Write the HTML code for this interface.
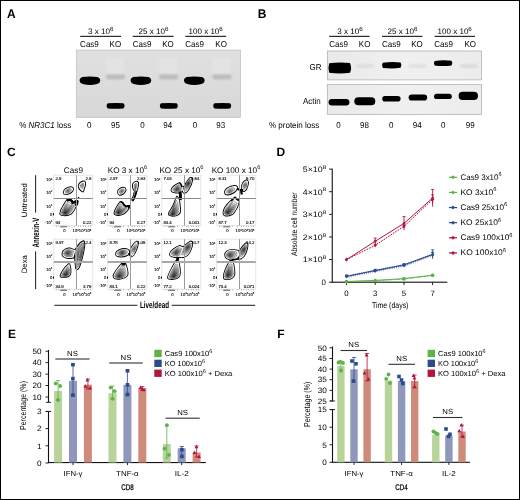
<!DOCTYPE html>
<html><head><meta charset="utf-8"><style>
html,body{margin:0;padding:0;background:#fff;}
svg{display:block;}
text{font-family:"Liberation Sans",sans-serif;text-rendering:geometricPrecision;}
</style></head><body>
<svg width="520" height="500" viewBox="0 0 520 500" style="will-change:transform">
<rect x="0" y="0" width="520" height="500" fill="#fff"/>
<text transform="translate(7,17.6) scale(1,1.05)" x="0" y="0" font-size="12" text-anchor="start" font-weight="bold" fill="#000">A</text>
<text transform="translate(88,34.2) scale(1,1.07)" font-size="7.5" textLength="25.599999999999994" lengthAdjust="spacingAndGlyphs">3 x 10<tspan font-size="5.8" dy="-3.1">6</tspan></text>
<rect x="80.2" y="35.8" width="40.8" height="1.15" fill="#222"/>
<text transform="translate(138.5,34.2) scale(1,1.07)" font-size="7.5" textLength="30.099999999999994" lengthAdjust="spacingAndGlyphs">25 x 10<tspan font-size="5.8" dy="-3.1">6</tspan></text>
<rect x="132.8" y="35.8" width="40.69999999999999" height="1.15" fill="#222"/>
<text transform="translate(188.5,34.2) scale(1,1.07)" font-size="7.5" textLength="34.30000000000001" lengthAdjust="spacingAndGlyphs">100 x 10<tspan font-size="5.8" dy="-3.1">6</tspan></text>
<rect x="185.3" y="35.8" width="40.89999999999998" height="1.15" fill="#222"/>
<text transform="translate(80.1,46.7) scale(1,1.07)" x="0" y="0" font-size="8" text-anchor="start" font-weight="normal" fill="#000">Cas9</text>
<text transform="translate(109.6,46.7) scale(1,1.07)" x="0" y="0" font-size="8" text-anchor="start" font-weight="normal" fill="#000">KO</text>
<text transform="translate(132.7,46.7) scale(1,1.07)" x="0" y="0" font-size="8" text-anchor="start" font-weight="normal" fill="#000">Cas9</text>
<text transform="translate(162.2,46.7) scale(1,1.07)" x="0" y="0" font-size="8" text-anchor="start" font-weight="normal" fill="#000">KO</text>
<text transform="translate(185.3,46.7) scale(1,1.07)" x="0" y="0" font-size="8" text-anchor="start" font-weight="normal" fill="#000">Cas9</text>
<text transform="translate(215.3,46.7) scale(1,1.07)" x="0" y="0" font-size="8" text-anchor="start" font-weight="normal" fill="#000">KO</text>
<defs><linearGradient id="gelg" x1="0" y1="0" x2="0" y2="1"><stop offset="0" stop-color="#e0e0e0"/><stop offset="1" stop-color="#d8d8d8"/></linearGradient><linearGradient id="smear" x1="0" y1="0" x2="0" y2="1"><stop offset="0" stop-color="#d4d4d4" stop-opacity="0.0"/><stop offset="0.7" stop-color="#d0d0d0" stop-opacity="0.35"/><stop offset="1" stop-color="#c8c8c8" stop-opacity="0.55"/></linearGradient><filter id="blur1" x="-20%" y="-50%" width="140%" height="200%"><feGaussianBlur stdDeviation="0.55"/></filter><filter id="blur2" x="-20%" y="-50%" width="140%" height="200%"><feGaussianBlur stdDeviation="1.0"/></filter><filter id="blur3" x="-20%" y="-50%" width="140%" height="200%"><feGaussianBlur stdDeviation="0.8"/></filter></defs>
<rect x="76.3" y="50.1" width="164.2" height="67.3" fill="url(#gelg)" stroke="#bdbdbd" stroke-width="0.7"/>
<rect x="106.5" y="58" width="17.5" height="17" fill="#e6e6e6" opacity="0.7" filter="url(#blur2)"/>
<rect x="159.5" y="58" width="17.5" height="17" fill="#e6e6e6" opacity="0.7" filter="url(#blur2)"/>
<rect x="213" y="58" width="17.5" height="17" fill="#e6e6e6" opacity="0.7" filter="url(#blur2)"/>
<path d="M82.3,77.1 Q89.89999999999999,76.0 97.5,77.1 Q100.4,78.3 100.2,80.9 Q99.8,83.4 97.0,84.1 Q89.89999999999999,86.0 82.8,84.1 Q80.0,83.4 79.6,80.9 Q79.39999999999999,78.3 82.3,77.1 Z" fill="#000" filter="url(#blur1)"/>
<path d="M133.3,77.1 Q140.9,76.0 148.5,77.1 Q151.4,78.3 151.2,80.9 Q150.8,83.4 148.0,84.1 Q140.9,86.0 133.8,84.1 Q131.0,83.4 130.60000000000002,80.9 Q130.4,78.3 133.3,77.1 Z" fill="#000" filter="url(#blur1)"/>
<path d="M186.7,77.1 Q194.29999999999998,76.0 201.89999999999998,77.1 Q204.79999999999998,78.3 204.59999999999997,80.9 Q204.2,83.4 201.39999999999998,84.1 Q194.29999999999998,86.0 187.2,84.1 Q184.39999999999998,83.4 184.0,80.9 Q183.79999999999998,78.3 186.7,77.1 Z" fill="#000" filter="url(#blur1)"/>
<rect x="106.0" y="74.6" width="18.8" height="4.6" rx="1.4" fill="#bababa" filter="url(#blur3)"/>
<rect x="159.2" y="74.6" width="18.8" height="4.6" rx="1.4" fill="#bababa" filter="url(#blur3)"/>
<rect x="212.6" y="74.6" width="18.8" height="4.6" rx="1.4" fill="#bababa" filter="url(#blur3)"/>
<path d="M107.8,103.3 Q115.8,102.8 123.4,103.3 Q125.8,105.9 123.4,108.5 Q115.8,109.1 107.8,108.5 Q105.39999999999999,105.9 107.8,103.3 Z" fill="#000" filter="url(#blur1)"/>
<path d="M161.0,103.3 Q169.0,102.8 176.6,103.3 Q179.0,105.9 176.6,108.5 Q169.0,109.1 161.0,108.5 Q158.6,105.9 161.0,103.3 Z" fill="#000" filter="url(#blur1)"/>
<path d="M214.4,103.3 Q222.4,102.8 230.0,103.3 Q232.4,105.9 230.0,108.5 Q222.4,109.1 214.4,108.5 Q212.0,105.9 214.4,103.3 Z" fill="#000" filter="url(#blur1)"/>
<text transform="translate(19.2,127.5) scale(1,1.07)" font-size="8">% <tspan font-style="italic">NR3C1</tspan> loss</text>
<text transform="translate(89.2,127.5) scale(1,1.07)" x="0" y="0" font-size="8" text-anchor="middle" font-weight="normal" fill="#000">0</text>
<text transform="translate(115.4,127.5) scale(1,1.07)" x="0" y="0" font-size="8" text-anchor="middle" font-weight="normal" fill="#000">95</text>
<text transform="translate(142.5,127.5) scale(1,1.07)" x="0" y="0" font-size="8" text-anchor="middle" font-weight="normal" fill="#000">0</text>
<text transform="translate(167.7,127.5) scale(1,1.07)" x="0" y="0" font-size="8" text-anchor="middle" font-weight="normal" fill="#000">94</text>
<text transform="translate(195,127.5) scale(1,1.07)" x="0" y="0" font-size="8" text-anchor="middle" font-weight="normal" fill="#000">0</text>
<text transform="translate(220.8,127.5) scale(1,1.07)" x="0" y="0" font-size="8" text-anchor="middle" font-weight="normal" fill="#000">93</text>
<text transform="translate(257.8,17.6) scale(1,1.05)" x="0" y="0" font-size="12" text-anchor="start" font-weight="bold" fill="#000">B</text>
<text transform="translate(337.2,34.2) scale(1,1.07)" font-size="7.5" textLength="25.600000000000023" lengthAdjust="spacingAndGlyphs">3 x 10<tspan font-size="5.8" dy="-3.1">6</tspan></text>
<rect x="329.2" y="35.8" width="40.400000000000034" height="1.15" fill="#222"/>
<text transform="translate(387.5,34.2) scale(1,1.07)" font-size="7.5" textLength="30.100000000000023" lengthAdjust="spacingAndGlyphs">25 x 10<tspan font-size="5.8" dy="-3.1">6</tspan></text>
<rect x="382" y="35.8" width="40.39999999999998" height="1.15" fill="#222"/>
<text transform="translate(437.6,34.2) scale(1,1.07)" font-size="7.5" textLength="34.19999999999999" lengthAdjust="spacingAndGlyphs">100 x 10<tspan font-size="5.8" dy="-3.1">6</tspan></text>
<rect x="434.6" y="35.8" width="40.39999999999998" height="1.15" fill="#222"/>
<text transform="translate(329.2,46.7) scale(1,1.07)" x="0" y="0" font-size="8" text-anchor="start" font-weight="normal" fill="#000">Cas9</text>
<text transform="translate(358.8,46.7) scale(1,1.07)" x="0" y="0" font-size="8" text-anchor="start" font-weight="normal" fill="#000">KO</text>
<text transform="translate(382,46.7) scale(1,1.07)" x="0" y="0" font-size="8" text-anchor="start" font-weight="normal" fill="#000">Cas9</text>
<text transform="translate(411.2,46.7) scale(1,1.07)" x="0" y="0" font-size="8" text-anchor="start" font-weight="normal" fill="#000">KO</text>
<text transform="translate(434.2,46.7) scale(1,1.07)" x="0" y="0" font-size="8" text-anchor="start" font-weight="normal" fill="#000">Cas9</text>
<text transform="translate(464.4,46.7) scale(1,1.07)" x="0" y="0" font-size="8" text-anchor="start" font-weight="normal" fill="#000">KO</text>
<linearGradient id="blotg" x1="0" y1="0" x2="1" y2="0"><stop offset="0" stop-color="#e9e9e9"/><stop offset="0.5" stop-color="#f0f0f0"/><stop offset="1" stop-color="#ececec"/></linearGradient>
<rect x="327.3" y="51" width="154.3" height="28.9" fill="url(#blotg)" stroke="#aaa" stroke-width="0.7"/>
<rect x="327.3" y="84.4" width="154.3" height="30" fill="url(#blotg)" stroke="#aaa" stroke-width="0.7"/>
<text transform="translate(321.5,70.3) scale(1,1.07)" x="0" y="0" font-size="8" text-anchor="end" font-weight="normal" fill="#000">GR</text>
<text transform="translate(320.8,104.3) scale(1,1.07)" x="0" y="0" font-size="8" text-anchor="end" font-weight="normal" fill="#000">Actin</text>
<path d="M329.2,63.2 Q340,61.8 350,63 Q352.2,68 350,72.8 Q340,74.2 329.2,72.8 Q327.6,68 329.2,63.2 Z" fill="#000" filter="url(#blur1)"/>
<path d="M382.8,62.8 Q392,61.4 400.6,62.6 Q402.2,65.2 400.6,67.8 Q392,68.9 382.8,67.9 Q381.2,65.4 382.8,62.8 Z" fill="#000" filter="url(#blur1)"/>
<path d="M434.6,60.9 Q443,59.8 451.6,60.7 Q453.1,63.1 451.6,65.5 Q443,66.5 434.6,65.5 Q433.1,63.2 434.6,60.9 Z" fill="#000" filter="url(#blur1)"/>
<rect x="356" y="64.4" width="18" height="3" rx="1.5" fill="#c8c8c8" opacity="0.5" filter="url(#blur3)"/>
<rect x="408.5" y="64.4" width="18" height="3" rx="1.5" fill="#c8c8c8" opacity="0.45" filter="url(#blur3)"/>
<rect x="460" y="64.4" width="18" height="3" rx="1.5" fill="#c8c8c8" opacity="0.6" filter="url(#blur3)"/>
<rect x="328.6" y="99.0" width="20.8" height="6.6" rx="3.30" fill="#000" filter="url(#blur1)"/>
<rect x="354.3" y="97.2" width="21" height="8" rx="4.00" fill="#000" filter="url(#blur1)"/>
<rect x="382.2" y="96.0" width="18.4" height="5.6" rx="2.80" fill="#000" filter="url(#blur1)"/>
<rect x="408.6" y="94.4" width="18.6" height="6.2" rx="3.10" fill="#000" filter="url(#blur1)"/>
<rect x="434" y="93.7" width="17.8" height="5.4" rx="2.70" fill="#000" filter="url(#blur1)"/>
<rect x="458.6" y="91.8" width="19.4" height="8.2" rx="4.10" fill="#000" filter="url(#blur1)"/>
<text transform="translate(269,127.5) scale(1,1.07)" font-size="8">% protein loss</text>
<text transform="translate(338.5,127.5) scale(1,1.07)" x="0" y="0" font-size="8" text-anchor="middle" font-weight="normal" fill="#000">0</text>
<text transform="translate(364.4,127.5) scale(1,1.07)" x="0" y="0" font-size="8" text-anchor="middle" font-weight="normal" fill="#000">98</text>
<text transform="translate(391.2,127.5) scale(1,1.07)" x="0" y="0" font-size="8" text-anchor="middle" font-weight="normal" fill="#000">0</text>
<text transform="translate(417.3,127.5) scale(1,1.07)" x="0" y="0" font-size="8" text-anchor="middle" font-weight="normal" fill="#000">94</text>
<text transform="translate(443.2,127.5) scale(1,1.07)" x="0" y="0" font-size="8" text-anchor="middle" font-weight="normal" fill="#000">0</text>
<text transform="translate(470.2,127.5) scale(1,1.07)" x="0" y="0" font-size="8" text-anchor="middle" font-weight="normal" fill="#000">99</text>
<g transform="translate(54,176) scale(0.1)">
<rect x="-2" y="-8" width="390" height="505" fill="#fff" stroke="#e2e2e2" stroke-width="9"/>
<path d="M97,165 C95,140 130,115 165,112 C190,112 198,128 185,148 C170,170 135,182 115,182 C103,182 98,175 97,165 Z" fill="#000" stroke="#000" stroke-width="18" stroke-linejoin="round"/>
<path d="M248,95 C255,70 280,55 305,55 C318,60 312,95 300,125 C295,140 292,152 288,155 C270,145 245,120 248,95 Z" fill="#000" stroke="#000" stroke-width="18" stroke-linejoin="round"/>
<path d="M62,375 C65,350 85,310 100,290 C110,270 120,250 132,240 L150,232 L170,240 L180,250 L186,266 L200,260 L220,250 L236,250 L233,275 L220,300 L212,315 C205,335 190,360 170,378 C150,390 120,394 95,392 C75,390 62,385 62,375 Z" fill="#000" stroke="#000" stroke-width="18" stroke-linejoin="round"/>
<path d="M97,165 C95,140 130,115 165,112 C190,112 198,128 185,148 C170,170 135,182 115,182 C103,182 98,175 97,165 Z" fill="#fcfcfc"/>
<path d="M248,95 C255,70 280,55 305,55 C318,60 312,95 300,125 C295,140 292,152 288,155 C270,145 245,120 248,95 Z" fill="#fafafa"/>
<path d="M62,375 C65,350 85,310 100,290 C110,270 120,250 132,240 L150,232 L170,240 L180,250 L186,266 L200,260 L220,250 L236,250 L233,275 L220,300 L212,315 C205,335 190,360 170,378 C150,390 120,394 95,392 C75,390 62,385 62,375 Z" fill="#fdfdfd"/>
<path d="M97,165 C95,140 130,115 165,112 C190,112 198,128 185,148 C170,170 135,182 115,182 C103,182 98,175 97,165 Z" fill="#e6e6e6" stroke="#000" stroke-width="5.45" transform="translate(140,150) scale(0.660) translate(-140,-150)"/>
<path d="M97,165 C95,140 130,115 165,112 C190,112 198,128 185,148 C170,170 135,182 115,182 C103,182 98,175 97,165 Z" fill="#c8c8c8" stroke="#000" stroke-width="8.57" transform="translate(140,150) scale(0.420) translate(-140,-150)"/>
<path d="M97,165 C95,140 130,115 165,112 C190,112 198,128 185,148 C170,170 135,182 115,182 C103,182 98,175 97,165 Z" fill="#a0a0a0" stroke="#000" stroke-width="18.00" transform="translate(140,150) scale(0.200) translate(-140,-150)"/>
<path d="M248,95 C255,70 280,55 305,55 C318,60 312,95 300,125 C295,140 292,152 288,155 C270,145 245,120 248,95 Z" fill="#dcdcdc" stroke="#000" stroke-width="6.55" transform="translate(280,95) scale(0.550) translate(-280,-95)"/>
<path d="M248,95 C255,70 280,55 305,55 C318,60 312,95 300,125 C295,140 292,152 288,155 C270,145 245,120 248,95 Z" fill="#b8b8b8" stroke="#000" stroke-width="14.40" transform="translate(280,95) scale(0.250) translate(-280,-95)"/>
<path d="M62,375 C65,350 85,310 100,290 C110,270 120,250 132,240 L150,232 L170,240 L180,250 L186,266 L200,260 L220,250 L236,250 L233,275 L220,300 L212,315 C205,335 190,360 170,378 C150,390 120,394 95,392 C75,390 62,385 62,375 Z" fill="#f0f0f0" stroke="#000" stroke-width="4.50" transform="translate(112,368) scale(0.800) translate(-112,-368)"/>
<path d="M62,375 C65,350 85,310 100,290 C110,270 120,250 132,240 L150,232 L170,240 L180,250 L186,266 L200,260 L220,250 L236,250 L233,275 L220,300 L212,315 C205,335 190,360 170,378 C150,390 120,394 95,392 C75,390 62,385 62,375 Z" fill="#e0e0e0" stroke="#000" stroke-width="5.45" transform="translate(112,368) scale(0.660) translate(-112,-368)"/>
<path d="M62,375 C65,350 85,310 100,290 C110,270 120,250 132,240 L150,232 L170,240 L180,250 L186,266 L200,260 L220,250 L236,250 L233,275 L220,300 L212,315 C205,335 190,360 170,378 C150,390 120,394 95,392 C75,390 62,385 62,375 Z" fill="#cecece" stroke="#000" stroke-width="6.55" transform="translate(112,368) scale(0.550) translate(-112,-368)"/>
<path d="M62,375 C65,350 85,310 100,290 C110,270 120,250 132,240 L150,232 L170,240 L180,250 L186,266 L200,260 L220,250 L236,250 L233,275 L220,300 L212,315 C205,335 190,360 170,378 C150,390 120,394 95,392 C75,390 62,385 62,375 Z" fill="#bababa" stroke="#000" stroke-width="8.00" transform="translate(112,368) scale(0.450) translate(-112,-368)"/>
<path d="M62,375 C65,350 85,310 100,290 C110,270 120,250 132,240 L150,232 L170,240 L180,250 L186,266 L200,260 L220,250 L236,250 L233,275 L220,300 L212,315 C205,335 190,360 170,378 C150,390 120,394 95,392 C75,390 62,385 62,375 Z" fill="#a6a6a6" stroke="#000" stroke-width="10.00" transform="translate(112,368) scale(0.360) translate(-112,-368)"/>
<path d="M62,375 C65,350 85,310 100,290 C110,270 120,250 132,240 L150,232 L170,240 L180,250 L186,266 L200,260 L220,250 L236,250 L233,275 L220,300 L212,315 C205,335 190,360 170,378 C150,390 120,394 95,392 C75,390 62,385 62,375 Z" fill="#929292" stroke="#000" stroke-width="12.86" transform="translate(112,368) scale(0.280) translate(-112,-368)"/>
<path d="M62,375 C65,350 85,310 100,290 C110,270 120,250 132,240 L150,232 L170,240 L180,250 L186,266 L200,260 L220,250 L236,250 L233,275 L220,300 L212,315 C205,335 190,360 170,378 C150,390 120,394 95,392 C75,390 62,385 62,375 Z" fill="#7e7e7e" stroke="#000" stroke-width="18.00" transform="translate(112,368) scale(0.200) translate(-112,-368)"/>
<path d="M62,375 C65,350 85,310 100,290 C110,270 120,250 132,240 L150,232 L170,240 L180,250 L186,266 L200,260 L220,250 L236,250 L233,275 L220,300 L212,315 C205,335 190,360 170,378 C150,390 120,394 95,392 C75,390 62,385 62,375 Z" fill="#6a6a6a" stroke="#000" stroke-width="30.00" transform="translate(112,368) scale(0.120) translate(-112,-368)"/>
<path d="M62,375 C65,350 85,310 100,290 C110,270 120,250 132,240 L150,232 L170,240 L180,250 L186,266 L200,260 L220,250 L236,250 L233,275 L220,300 L212,315 C205,335 190,360 170,378 C150,390 120,394 95,392 C75,390 62,385 62,375 Z" fill="#555" stroke="#000" stroke-width="72.00" transform="translate(112,368) scale(0.050) translate(-112,-368)"/>
<path d="M128,246 L150,236 L170,244 L180,254 L186,270 L200,264 L220,256 L232,254 L229,275 L217,298" fill="none" stroke="#000" stroke-width="24" stroke-linejoin="round"/><rect x="238" y="210" width="14" height="12" fill="#000"/>
<rect x="220" y="-8" width="10" height="505" fill="#9a9a9a"/>
<rect x="-2" y="220" width="390" height="10" fill="#8a8a8a"/>
<rect x="20" y="497" width="8" height="12" fill="#aaa"/>
<rect x="45" y="497" width="8" height="12" fill="#aaa"/>
<rect x="70" y="497" width="8" height="12" fill="#aaa"/>
<rect x="80" y="497" width="8" height="12" fill="#aaa"/>
<rect x="90" y="497" width="8" height="12" fill="#aaa"/>
<rect x="100" y="497" width="8" height="12" fill="#aaa"/>
<rect x="110" y="497" width="8" height="12" fill="#aaa"/>
<rect x="125" y="497" width="8" height="12" fill="#aaa"/>
<rect x="150" y="497" width="8" height="12" fill="#aaa"/>
<rect x="200" y="497" width="8" height="12" fill="#aaa"/>
<rect x="240" y="497" width="8" height="12" fill="#aaa"/>
<rect x="260" y="497" width="8" height="12" fill="#aaa"/>
<rect x="290" y="497" width="8" height="12" fill="#aaa"/>
<rect x="310" y="497" width="8" height="12" fill="#aaa"/>
<rect x="340" y="497" width="8" height="12" fill="#aaa"/>
<rect x="360" y="497" width="8" height="12" fill="#aaa"/>
<rect x="60" y="505" width="70" height="8" fill="#555"/>
<rect x="-9" y="372" width="9" height="22" fill="#000"/>
</g>
<text x="55.40" y="179.60" font-size="4.3" stroke="#000" stroke-width="0.12">2.9</text>
<text x="91.40" y="179.60" font-size="4.3" stroke="#000" stroke-width="0.12" text-anchor="end">2.9</text>
<text x="55.40" y="224.10" font-size="4.3" stroke="#000" stroke-width="0.12">94</text>
<text x="91.40" y="224.10" font-size="4.3" stroke="#000" stroke-width="0.12" text-anchor="end">0.22</text>
<text x="52.40" y="181.30" font-size="4.2" stroke="#000" stroke-width="0.1" text-anchor="end">10<tspan font-size="2.8" dy="-1.5">3</tspan></text>
<text x="52.40" y="193.80" font-size="4.2" stroke="#000" stroke-width="0.1" text-anchor="end">10<tspan font-size="2.8" dy="-1.5">2</tspan></text>
<text x="52.40" y="207.60" font-size="4.2" stroke="#000" stroke-width="0.1" text-anchor="end">10<tspan font-size="2.8" dy="-1.5">1</tspan></text>
<text x="52.40" y="216.00" font-size="4.2" stroke="#000" stroke-width="0.1" text-anchor="end">0</text>
<text x="52.40" y="223.80" font-size="4.2" stroke="#000" stroke-width="0.1" text-anchor="end">-10<tspan font-size="2.8" dy="-1.5">1</tspan></text>
<text x="64.40" y="232.10" font-size="4.2" stroke="#000" stroke-width="0.1" text-anchor="middle">0</text>
<text x="72.60" y="232.10" font-size="4.2" stroke="#000" stroke-width="0.1" textLength="18.8" lengthAdjust="spacingAndGlyphs">10<tspan font-size="2.8" dy="-1.5">3</tspan><tspan dy="1.5">10</tspan><tspan font-size="2.8" dy="-1.5">4</tspan><tspan dy="1.5">10</tspan><tspan font-size="2.8" dy="-1.5">5</tspan></text>
<g transform="translate(108,176) scale(0.1)">
<rect x="-2" y="-8" width="390" height="505" fill="#fff" stroke="#e2e2e2" stroke-width="9"/>
<path d="M100,160 C100,135 135,115 160,118 C180,122 180,140 168,158 C155,178 130,190 115,188 C105,185 100,175 100,160 Z" fill="#000" stroke="#000" stroke-width="18" stroke-linejoin="round"/>
<path d="M250,85 C255,60 290,50 300,65 C305,90 295,125 285,150 C280,175 270,200 260,225 L248,245 L242,238 C255,210 265,180 270,150 C255,135 245,110 250,85 Z" fill="#000" stroke="#000" stroke-width="18" stroke-linejoin="round"/>
<path d="M65,370 C70,340 95,295 125,258 L145,268 L160,290 L180,305 L200,300 L215,300 L205,325 C190,350 165,375 135,385 C100,395 62,390 65,370 Z" fill="#000" stroke="#000" stroke-width="18" stroke-linejoin="round"/>
<path d="M100,160 C100,135 135,115 160,118 C180,122 180,140 168,158 C155,178 130,190 115,188 C105,185 100,175 100,160 Z" fill="#fcfcfc"/>
<path d="M250,85 C255,60 290,50 300,65 C305,90 295,125 285,150 C280,175 270,200 260,225 L248,245 L242,238 C255,210 265,180 270,150 C255,135 245,110 250,85 Z" fill="#fafafa"/>
<path d="M65,370 C70,340 95,295 125,258 L145,268 L160,290 L180,305 L200,300 L215,300 L205,325 C190,350 165,375 135,385 C100,395 62,390 65,370 Z" fill="#fdfdfd"/>
<path d="M100,160 C100,135 135,115 160,118 C180,122 180,140 168,158 C155,178 130,190 115,188 C105,185 100,175 100,160 Z" fill="#e6e6e6" stroke="#000" stroke-width="5.45" transform="translate(138,153) scale(0.660) translate(-138,-153)"/>
<path d="M100,160 C100,135 135,115 160,118 C180,122 180,140 168,158 C155,178 130,190 115,188 C105,185 100,175 100,160 Z" fill="#c8c8c8" stroke="#000" stroke-width="8.57" transform="translate(138,153) scale(0.420) translate(-138,-153)"/>
<path d="M100,160 C100,135 135,115 160,118 C180,122 180,140 168,158 C155,178 130,190 115,188 C105,185 100,175 100,160 Z" fill="#a0a0a0" stroke="#000" stroke-width="18.00" transform="translate(138,153) scale(0.200) translate(-138,-153)"/>
<path d="M250,85 C255,60 290,50 300,65 C305,90 295,125 285,150 C280,175 270,200 260,225 L248,245 L242,238 C255,210 265,180 270,150 C255,135 245,110 250,85 Z" fill="#dcdcdc" stroke="#000" stroke-width="6.55" transform="translate(275,95) scale(0.550) translate(-275,-95)"/>
<path d="M250,85 C255,60 290,50 300,65 C305,90 295,125 285,150 C280,175 270,200 260,225 L248,245 L242,238 C255,210 265,180 270,150 C255,135 245,110 250,85 Z" fill="#b8b8b8" stroke="#000" stroke-width="14.40" transform="translate(275,95) scale(0.250) translate(-275,-95)"/>
<path d="M65,370 C70,340 95,295 125,258 L145,268 L160,290 L180,305 L200,300 L215,300 L205,325 C190,350 165,375 135,385 C100,395 62,390 65,370 Z" fill="#f0f0f0" stroke="#000" stroke-width="4.50" transform="translate(105,365) scale(0.800) translate(-105,-365)"/>
<path d="M65,370 C70,340 95,295 125,258 L145,268 L160,290 L180,305 L200,300 L215,300 L205,325 C190,350 165,375 135,385 C100,395 62,390 65,370 Z" fill="#e0e0e0" stroke="#000" stroke-width="5.45" transform="translate(105,365) scale(0.660) translate(-105,-365)"/>
<path d="M65,370 C70,340 95,295 125,258 L145,268 L160,290 L180,305 L200,300 L215,300 L205,325 C190,350 165,375 135,385 C100,395 62,390 65,370 Z" fill="#cecece" stroke="#000" stroke-width="6.55" transform="translate(105,365) scale(0.550) translate(-105,-365)"/>
<path d="M65,370 C70,340 95,295 125,258 L145,268 L160,290 L180,305 L200,300 L215,300 L205,325 C190,350 165,375 135,385 C100,395 62,390 65,370 Z" fill="#bababa" stroke="#000" stroke-width="8.00" transform="translate(105,365) scale(0.450) translate(-105,-365)"/>
<path d="M65,370 C70,340 95,295 125,258 L145,268 L160,290 L180,305 L200,300 L215,300 L205,325 C190,350 165,375 135,385 C100,395 62,390 65,370 Z" fill="#a6a6a6" stroke="#000" stroke-width="10.00" transform="translate(105,365) scale(0.360) translate(-105,-365)"/>
<path d="M65,370 C70,340 95,295 125,258 L145,268 L160,290 L180,305 L200,300 L215,300 L205,325 C190,350 165,375 135,385 C100,395 62,390 65,370 Z" fill="#929292" stroke="#000" stroke-width="12.86" transform="translate(105,365) scale(0.280) translate(-105,-365)"/>
<path d="M65,370 C70,340 95,295 125,258 L145,268 L160,290 L180,305 L200,300 L215,300 L205,325 C190,350 165,375 135,385 C100,395 62,390 65,370 Z" fill="#7e7e7e" stroke="#000" stroke-width="18.00" transform="translate(105,365) scale(0.200) translate(-105,-365)"/>
<path d="M65,370 C70,340 95,295 125,258 L145,268 L160,290 L180,305 L200,300 L215,300 L205,325 C190,350 165,375 135,385 C100,395 62,390 65,370 Z" fill="#6a6a6a" stroke="#000" stroke-width="30.00" transform="translate(105,365) scale(0.120) translate(-105,-365)"/>
<path d="M65,370 C70,340 95,295 125,258 L145,268 L160,290 L180,305 L200,300 L215,300 L205,325 C190,350 165,375 135,385 C100,395 62,390 65,370 Z" fill="#555" stroke="#000" stroke-width="72.00" transform="translate(105,365) scale(0.050) translate(-105,-365)"/>
<path d="M125,258 L145,268 L160,290 L180,305 L200,300 L215,300 L205,325" fill="none" stroke="#000" stroke-width="18" stroke-linejoin="round"/><path d="M285,150 C280,175 270,200 260,225 L248,245" fill="none" stroke="#000" stroke-width="16"/>
<rect x="220" y="-8" width="10" height="505" fill="#9a9a9a"/>
<rect x="-2" y="220" width="390" height="10" fill="#8a8a8a"/>
<rect x="20" y="497" width="8" height="12" fill="#aaa"/>
<rect x="45" y="497" width="8" height="12" fill="#aaa"/>
<rect x="70" y="497" width="8" height="12" fill="#aaa"/>
<rect x="80" y="497" width="8" height="12" fill="#aaa"/>
<rect x="90" y="497" width="8" height="12" fill="#aaa"/>
<rect x="100" y="497" width="8" height="12" fill="#aaa"/>
<rect x="110" y="497" width="8" height="12" fill="#aaa"/>
<rect x="125" y="497" width="8" height="12" fill="#aaa"/>
<rect x="150" y="497" width="8" height="12" fill="#aaa"/>
<rect x="200" y="497" width="8" height="12" fill="#aaa"/>
<rect x="240" y="497" width="8" height="12" fill="#aaa"/>
<rect x="260" y="497" width="8" height="12" fill="#aaa"/>
<rect x="290" y="497" width="8" height="12" fill="#aaa"/>
<rect x="310" y="497" width="8" height="12" fill="#aaa"/>
<rect x="340" y="497" width="8" height="12" fill="#aaa"/>
<rect x="360" y="497" width="8" height="12" fill="#aaa"/>
<rect x="60" y="505" width="70" height="8" fill="#555"/>
<rect x="-9" y="372" width="9" height="22" fill="#000"/>
</g>
<text x="109.40" y="179.60" font-size="4.3" stroke="#000" stroke-width="0.12">2.97</text>
<text x="145.40" y="179.60" font-size="4.3" stroke="#000" stroke-width="0.12" text-anchor="end">2.63</text>
<text x="109.40" y="224.10" font-size="4.3" stroke="#000" stroke-width="0.12">94</text>
<text x="145.40" y="224.10" font-size="4.3" stroke="#000" stroke-width="0.12" text-anchor="end">0.27</text>
<text x="106.40" y="181.30" font-size="4.2" stroke="#000" stroke-width="0.1" text-anchor="end">10<tspan font-size="2.8" dy="-1.5">3</tspan></text>
<text x="106.40" y="193.80" font-size="4.2" stroke="#000" stroke-width="0.1" text-anchor="end">10<tspan font-size="2.8" dy="-1.5">2</tspan></text>
<text x="106.40" y="207.60" font-size="4.2" stroke="#000" stroke-width="0.1" text-anchor="end">10<tspan font-size="2.8" dy="-1.5">1</tspan></text>
<text x="106.40" y="216.00" font-size="4.2" stroke="#000" stroke-width="0.1" text-anchor="end">0</text>
<text x="106.40" y="223.80" font-size="4.2" stroke="#000" stroke-width="0.1" text-anchor="end">-10<tspan font-size="2.8" dy="-1.5">1</tspan></text>
<text x="118.40" y="232.10" font-size="4.2" stroke="#000" stroke-width="0.1" text-anchor="middle">0</text>
<text x="126.60" y="232.10" font-size="4.2" stroke="#000" stroke-width="0.1" textLength="18.8" lengthAdjust="spacingAndGlyphs">10<tspan font-size="2.8" dy="-1.5">3</tspan><tspan dy="1.5">10</tspan><tspan font-size="2.8" dy="-1.5">4</tspan><tspan dy="1.5">10</tspan><tspan font-size="2.8" dy="-1.5">5</tspan></text>
<g transform="translate(162,176) scale(0.1)">
<rect x="-2" y="-8" width="390" height="505" fill="#fff" stroke="#e2e2e2" stroke-width="9"/>
<path d="M95,140 C100,115 140,85 175,70 L185,80 C190,95 200,110 215,110 L210,140 C200,160 170,165 140,165 C110,165 92,155 95,140 Z" fill="#000" stroke="#000" stroke-width="18" stroke-linejoin="round"/>
<path d="M212,140 C220,110 245,60 275,25 C290,12 305,20 302,40 C298,70 280,110 260,140 C245,162 225,172 215,165 C208,158 208,150 212,140 Z" fill="#000" stroke="#000" stroke-width="18" stroke-linejoin="round"/>
<path d="M150,206 L170,232 C175,265 178,300 182,340 C184,362 170,385 140,394 C115,400 88,398 72,388 C64,380 70,365 88,340 C100,320 112,300 122,275 C130,255 140,230 150,206 Z" fill="#000" stroke="#000" stroke-width="18" stroke-linejoin="round"/>
<path d="M95,140 C100,115 140,85 175,70 L185,80 C190,95 200,110 215,110 L210,140 C200,160 170,165 140,165 C110,165 92,155 95,140 Z" fill="#fdfdfd"/>
<path d="M212,140 C220,110 245,60 275,25 C290,12 305,20 302,40 C298,70 280,110 260,140 C245,162 225,172 215,165 C208,158 208,150 212,140 Z" fill="#fdfdfd"/>
<path d="M150,206 L170,232 C175,265 178,300 182,340 C184,362 170,385 140,394 C115,400 88,398 72,388 C64,380 70,365 88,340 C100,320 112,300 122,275 C130,255 140,230 150,206 Z" fill="#fdfdfd"/>
<path d="M95,140 C100,115 140,85 175,70 L185,80 C190,95 200,110 215,110 L210,140 C200,160 170,165 140,165 C110,165 92,155 95,140 Z" fill="#ececec" stroke="#000" stroke-width="4.74" transform="translate(150,132) scale(0.760) translate(-150,-132)"/>
<path d="M95,140 C100,115 140,85 175,70 L185,80 C190,95 200,110 215,110 L210,140 C200,160 170,165 140,165 C110,165 92,155 95,140 Z" fill="#d8d8d8" stroke="#000" stroke-width="6.00" transform="translate(150,132) scale(0.600) translate(-150,-132)"/>
<path d="M95,140 C100,115 140,85 175,70 L185,80 C190,95 200,110 215,110 L210,140 C200,160 170,165 140,165 C110,165 92,155 95,140 Z" fill="#c0c0c0" stroke="#000" stroke-width="7.83" transform="translate(150,132) scale(0.460) translate(-150,-132)"/>
<path d="M95,140 C100,115 140,85 175,70 L185,80 C190,95 200,110 215,110 L210,140 C200,160 170,165 140,165 C110,165 92,155 95,140 Z" fill="#a6a6a6" stroke="#000" stroke-width="10.59" transform="translate(150,132) scale(0.340) translate(-150,-132)"/>
<path d="M95,140 C100,115 140,85 175,70 L185,80 C190,95 200,110 215,110 L210,140 C200,160 170,165 140,165 C110,165 92,155 95,140 Z" fill="#8c8c8c" stroke="#000" stroke-width="15.65" transform="translate(150,132) scale(0.230) translate(-150,-132)"/>
<path d="M95,140 C100,115 140,85 175,70 L185,80 C190,95 200,110 215,110 L210,140 C200,160 170,165 140,165 C110,165 92,155 95,140 Z" fill="#727272" stroke="#000" stroke-width="30.00" transform="translate(150,132) scale(0.120) translate(-150,-132)"/>
<path d="M212,140 C220,110 245,60 275,25 C290,12 305,20 302,40 C298,70 280,110 260,140 C245,162 225,172 215,165 C208,158 208,150 212,140 Z" fill="#ececec" stroke="#000" stroke-width="4.74" transform="translate(262,75) scale(0.760) translate(-262,-75)"/>
<path d="M212,140 C220,110 245,60 275,25 C290,12 305,20 302,40 C298,70 280,110 260,140 C245,162 225,172 215,165 C208,158 208,150 212,140 Z" fill="#d8d8d8" stroke="#000" stroke-width="6.00" transform="translate(262,75) scale(0.600) translate(-262,-75)"/>
<path d="M212,140 C220,110 245,60 275,25 C290,12 305,20 302,40 C298,70 280,110 260,140 C245,162 225,172 215,165 C208,158 208,150 212,140 Z" fill="#c0c0c0" stroke="#000" stroke-width="7.83" transform="translate(262,75) scale(0.460) translate(-262,-75)"/>
<path d="M212,140 C220,110 245,60 275,25 C290,12 305,20 302,40 C298,70 280,110 260,140 C245,162 225,172 215,165 C208,158 208,150 212,140 Z" fill="#a6a6a6" stroke="#000" stroke-width="10.59" transform="translate(262,75) scale(0.340) translate(-262,-75)"/>
<path d="M212,140 C220,110 245,60 275,25 C290,12 305,20 302,40 C298,70 280,110 260,140 C245,162 225,172 215,165 C208,158 208,150 212,140 Z" fill="#8c8c8c" stroke="#000" stroke-width="15.65" transform="translate(262,75) scale(0.230) translate(-262,-75)"/>
<path d="M212,140 C220,110 245,60 275,25 C290,12 305,20 302,40 C298,70 280,110 260,140 C245,162 225,172 215,165 C208,158 208,150 212,140 Z" fill="#727272" stroke="#000" stroke-width="30.00" transform="translate(262,75) scale(0.120) translate(-262,-75)"/>
<path d="M150,206 L170,232 C175,265 178,300 182,340 C184,362 170,385 140,394 C115,400 88,398 72,388 C64,380 70,365 88,340 C100,320 112,300 122,275 C130,255 140,230 150,206 Z" fill="#f0f0f0" stroke="#000" stroke-width="4.50" transform="translate(105,382) scale(0.800) translate(-105,-382)"/>
<path d="M150,206 L170,232 C175,265 178,300 182,340 C184,362 170,385 140,394 C115,400 88,398 72,388 C64,380 70,365 88,340 C100,320 112,300 122,275 C130,255 140,230 150,206 Z" fill="#e0e0e0" stroke="#000" stroke-width="5.45" transform="translate(105,382) scale(0.660) translate(-105,-382)"/>
<path d="M150,206 L170,232 C175,265 178,300 182,340 C184,362 170,385 140,394 C115,400 88,398 72,388 C64,380 70,365 88,340 C100,320 112,300 122,275 C130,255 140,230 150,206 Z" fill="#cecece" stroke="#000" stroke-width="6.55" transform="translate(105,382) scale(0.550) translate(-105,-382)"/>
<path d="M150,206 L170,232 C175,265 178,300 182,340 C184,362 170,385 140,394 C115,400 88,398 72,388 C64,380 70,365 88,340 C100,320 112,300 122,275 C130,255 140,230 150,206 Z" fill="#bababa" stroke="#000" stroke-width="8.00" transform="translate(105,382) scale(0.450) translate(-105,-382)"/>
<path d="M150,206 L170,232 C175,265 178,300 182,340 C184,362 170,385 140,394 C115,400 88,398 72,388 C64,380 70,365 88,340 C100,320 112,300 122,275 C130,255 140,230 150,206 Z" fill="#a6a6a6" stroke="#000" stroke-width="10.00" transform="translate(105,382) scale(0.360) translate(-105,-382)"/>
<path d="M150,206 L170,232 C175,265 178,300 182,340 C184,362 170,385 140,394 C115,400 88,398 72,388 C64,380 70,365 88,340 C100,320 112,300 122,275 C130,255 140,230 150,206 Z" fill="#929292" stroke="#000" stroke-width="12.86" transform="translate(105,382) scale(0.280) translate(-105,-382)"/>
<path d="M150,206 L170,232 C175,265 178,300 182,340 C184,362 170,385 140,394 C115,400 88,398 72,388 C64,380 70,365 88,340 C100,320 112,300 122,275 C130,255 140,230 150,206 Z" fill="#7e7e7e" stroke="#000" stroke-width="18.00" transform="translate(105,382) scale(0.200) translate(-105,-382)"/>
<path d="M150,206 L170,232 C175,265 178,300 182,340 C184,362 170,385 140,394 C115,400 88,398 72,388 C64,380 70,365 88,340 C100,320 112,300 122,275 C130,255 140,230 150,206 Z" fill="#6a6a6a" stroke="#000" stroke-width="30.00" transform="translate(105,382) scale(0.120) translate(-105,-382)"/>
<path d="M150,206 L170,232 C175,265 178,300 182,340 C184,362 170,385 140,394 C115,400 88,398 72,388 C64,380 70,365 88,340 C100,320 112,300 122,275 C130,255 140,230 150,206 Z" fill="#555" stroke="#000" stroke-width="72.00" transform="translate(105,382) scale(0.050) translate(-105,-382)"/>
<path d="M172,160 C185,170 188,200 182,240" fill="none" stroke="#000" stroke-width="30"/><path d="M175,72 L185,80 L200,110" fill="none" stroke="#000" stroke-width="12"/>
<rect x="220" y="-8" width="10" height="505" fill="#9a9a9a"/>
<rect x="-2" y="220" width="390" height="10" fill="#8a8a8a"/>
<rect x="20" y="497" width="8" height="12" fill="#aaa"/>
<rect x="45" y="497" width="8" height="12" fill="#aaa"/>
<rect x="70" y="497" width="8" height="12" fill="#aaa"/>
<rect x="80" y="497" width="8" height="12" fill="#aaa"/>
<rect x="90" y="497" width="8" height="12" fill="#aaa"/>
<rect x="100" y="497" width="8" height="12" fill="#aaa"/>
<rect x="110" y="497" width="8" height="12" fill="#aaa"/>
<rect x="125" y="497" width="8" height="12" fill="#aaa"/>
<rect x="150" y="497" width="8" height="12" fill="#aaa"/>
<rect x="200" y="497" width="8" height="12" fill="#aaa"/>
<rect x="240" y="497" width="8" height="12" fill="#aaa"/>
<rect x="260" y="497" width="8" height="12" fill="#aaa"/>
<rect x="290" y="497" width="8" height="12" fill="#aaa"/>
<rect x="310" y="497" width="8" height="12" fill="#aaa"/>
<rect x="340" y="497" width="8" height="12" fill="#aaa"/>
<rect x="360" y="497" width="8" height="12" fill="#aaa"/>
<rect x="60" y="505" width="70" height="8" fill="#555"/>
<rect x="-9" y="372" width="9" height="22" fill="#000"/>
</g>
<text x="163.40" y="179.60" font-size="4.3" stroke="#000" stroke-width="0.12">7.03</text>
<text x="199.40" y="179.60" font-size="4.3" stroke="#000" stroke-width="0.12" text-anchor="end">6.54</text>
<text x="163.40" y="224.10" font-size="4.3" stroke="#000" stroke-width="0.12">84.4</text>
<text x="199.40" y="224.10" font-size="4.3" stroke="#000" stroke-width="0.12" text-anchor="end">0.041</text>
<text x="160.40" y="181.30" font-size="4.2" stroke="#000" stroke-width="0.1" text-anchor="end">10<tspan font-size="2.8" dy="-1.5">3</tspan></text>
<text x="160.40" y="193.80" font-size="4.2" stroke="#000" stroke-width="0.1" text-anchor="end">10<tspan font-size="2.8" dy="-1.5">2</tspan></text>
<text x="160.40" y="207.60" font-size="4.2" stroke="#000" stroke-width="0.1" text-anchor="end">10<tspan font-size="2.8" dy="-1.5">1</tspan></text>
<text x="160.40" y="216.00" font-size="4.2" stroke="#000" stroke-width="0.1" text-anchor="end">0</text>
<text x="160.40" y="223.80" font-size="4.2" stroke="#000" stroke-width="0.1" text-anchor="end">-10<tspan font-size="2.8" dy="-1.5">1</tspan></text>
<text x="172.40" y="232.10" font-size="4.2" stroke="#000" stroke-width="0.1" text-anchor="middle">0</text>
<text x="180.60" y="232.10" font-size="4.2" stroke="#000" stroke-width="0.1" textLength="18.8" lengthAdjust="spacingAndGlyphs">10<tspan font-size="2.8" dy="-1.5">3</tspan><tspan dy="1.5">10</tspan><tspan font-size="2.8" dy="-1.5">4</tspan><tspan dy="1.5">10</tspan><tspan font-size="2.8" dy="-1.5">5</tspan></text>
<g transform="translate(217,176) scale(0.1)">
<rect x="-2" y="-8" width="390" height="505" fill="#fff" stroke="#e2e2e2" stroke-width="9"/>
<path d="M80,160 C80,130 130,105 175,100 C200,100 210,115 195,135 C180,160 140,180 110,185 C90,187 80,177 80,160 Z" fill="#000" stroke="#000" stroke-width="18" stroke-linejoin="round"/>
<path d="M250,100 C255,70 280,40 300,45 C320,55 310,90 295,125 C285,145 268,155 258,150 C248,140 247,120 250,100 Z" fill="#000" stroke="#000" stroke-width="18" stroke-linejoin="round"/>
<path d="M65,370 C65,330 100,285 140,250 L180,215 L200,235 L220,245 C215,285 195,330 170,365 C150,390 110,398 85,395 C70,392 65,385 65,370 Z" fill="#000" stroke="#000" stroke-width="18" stroke-linejoin="round"/>
<path d="M80,160 C80,130 130,105 175,100 C200,100 210,115 195,135 C180,160 140,180 110,185 C90,187 80,177 80,160 Z" fill="#fcfcfc"/>
<path d="M250,100 C255,70 280,40 300,45 C320,55 310,90 295,125 C285,145 268,155 258,150 C248,140 247,120 250,100 Z" fill="#fcfcfc"/>
<path d="M65,370 C65,330 100,285 140,250 L180,215 L200,235 L220,245 C215,285 195,330 170,365 C150,390 110,398 85,395 C70,392 65,385 65,370 Z" fill="#fdfdfd"/>
<path d="M80,160 C80,130 130,105 175,100 C200,100 210,115 195,135 C180,160 140,180 110,185 C90,187 80,177 80,160 Z" fill="#e6e6e6" stroke="#000" stroke-width="5.45" transform="translate(128,152) scale(0.660) translate(-128,-152)"/>
<path d="M80,160 C80,130 130,105 175,100 C200,100 210,115 195,135 C180,160 140,180 110,185 C90,187 80,177 80,160 Z" fill="#c8c8c8" stroke="#000" stroke-width="8.57" transform="translate(128,152) scale(0.420) translate(-128,-152)"/>
<path d="M80,160 C80,130 130,105 175,100 C200,100 210,115 195,135 C180,160 140,180 110,185 C90,187 80,177 80,160 Z" fill="#a0a0a0" stroke="#000" stroke-width="18.00" transform="translate(128,152) scale(0.200) translate(-128,-152)"/>
<path d="M250,100 C255,70 280,40 300,45 C320,55 310,90 295,125 C285,145 268,155 258,150 C248,140 247,120 250,100 Z" fill="#e6e6e6" stroke="#000" stroke-width="5.45" transform="translate(282,92) scale(0.660) translate(-282,-92)"/>
<path d="M250,100 C255,70 280,40 300,45 C320,55 310,90 295,125 C285,145 268,155 258,150 C248,140 247,120 250,100 Z" fill="#c8c8c8" stroke="#000" stroke-width="8.57" transform="translate(282,92) scale(0.420) translate(-282,-92)"/>
<path d="M250,100 C255,70 280,40 300,45 C320,55 310,90 295,125 C285,145 268,155 258,150 C248,140 247,120 250,100 Z" fill="#a0a0a0" stroke="#000" stroke-width="18.00" transform="translate(282,92) scale(0.200) translate(-282,-92)"/>
<path d="M65,370 C65,330 100,285 140,250 L180,215 L200,235 L220,245 C215,285 195,330 170,365 C150,390 110,398 85,395 C70,392 65,385 65,370 Z" fill="#f0f0f0" stroke="#000" stroke-width="4.50" transform="translate(108,362) scale(0.800) translate(-108,-362)"/>
<path d="M65,370 C65,330 100,285 140,250 L180,215 L200,235 L220,245 C215,285 195,330 170,365 C150,390 110,398 85,395 C70,392 65,385 65,370 Z" fill="#e0e0e0" stroke="#000" stroke-width="5.45" transform="translate(108,362) scale(0.660) translate(-108,-362)"/>
<path d="M65,370 C65,330 100,285 140,250 L180,215 L200,235 L220,245 C215,285 195,330 170,365 C150,390 110,398 85,395 C70,392 65,385 65,370 Z" fill="#cecece" stroke="#000" stroke-width="6.55" transform="translate(108,362) scale(0.550) translate(-108,-362)"/>
<path d="M65,370 C65,330 100,285 140,250 L180,215 L200,235 L220,245 C215,285 195,330 170,365 C150,390 110,398 85,395 C70,392 65,385 65,370 Z" fill="#bababa" stroke="#000" stroke-width="8.00" transform="translate(108,362) scale(0.450) translate(-108,-362)"/>
<path d="M65,370 C65,330 100,285 140,250 L180,215 L200,235 L220,245 C215,285 195,330 170,365 C150,390 110,398 85,395 C70,392 65,385 65,370 Z" fill="#a6a6a6" stroke="#000" stroke-width="10.00" transform="translate(108,362) scale(0.360) translate(-108,-362)"/>
<path d="M65,370 C65,330 100,285 140,250 L180,215 L200,235 L220,245 C215,285 195,330 170,365 C150,390 110,398 85,395 C70,392 65,385 65,370 Z" fill="#929292" stroke="#000" stroke-width="12.86" transform="translate(108,362) scale(0.280) translate(-108,-362)"/>
<path d="M65,370 C65,330 100,285 140,250 L180,215 L200,235 L220,245 C215,285 195,330 170,365 C150,390 110,398 85,395 C70,392 65,385 65,370 Z" fill="#7e7e7e" stroke="#000" stroke-width="18.00" transform="translate(108,362) scale(0.200) translate(-108,-362)"/>
<path d="M65,370 C65,330 100,285 140,250 L180,215 L200,235 L220,245 C215,285 195,330 170,365 C150,390 110,398 85,395 C70,392 65,385 65,370 Z" fill="#6a6a6a" stroke="#000" stroke-width="30.00" transform="translate(108,362) scale(0.120) translate(-108,-362)"/>
<path d="M65,370 C65,330 100,285 140,250 L180,215 L200,235 L220,245 C215,285 195,330 170,365 C150,390 110,398 85,395 C70,392 65,385 65,370 Z" fill="#555" stroke="#000" stroke-width="72.00" transform="translate(108,362) scale(0.050) translate(-108,-362)"/>
<path d="M198,128 L230,138 L262,140 M240,140 L248,185" fill="none" stroke="#000" stroke-width="22"/><path d="M140,250 L180,215 L200,235 L220,245" fill="none" stroke="#000" stroke-width="16" stroke-linejoin="round"/>
<rect x="220" y="-8" width="10" height="505" fill="#9a9a9a"/>
<rect x="-2" y="220" width="390" height="10" fill="#8a8a8a"/>
<rect x="20" y="497" width="8" height="12" fill="#aaa"/>
<rect x="45" y="497" width="8" height="12" fill="#aaa"/>
<rect x="70" y="497" width="8" height="12" fill="#aaa"/>
<rect x="80" y="497" width="8" height="12" fill="#aaa"/>
<rect x="90" y="497" width="8" height="12" fill="#aaa"/>
<rect x="100" y="497" width="8" height="12" fill="#aaa"/>
<rect x="110" y="497" width="8" height="12" fill="#aaa"/>
<rect x="125" y="497" width="8" height="12" fill="#aaa"/>
<rect x="150" y="497" width="8" height="12" fill="#aaa"/>
<rect x="200" y="497" width="8" height="12" fill="#aaa"/>
<rect x="240" y="497" width="8" height="12" fill="#aaa"/>
<rect x="260" y="497" width="8" height="12" fill="#aaa"/>
<rect x="290" y="497" width="8" height="12" fill="#aaa"/>
<rect x="310" y="497" width="8" height="12" fill="#aaa"/>
<rect x="340" y="497" width="8" height="12" fill="#aaa"/>
<rect x="360" y="497" width="8" height="12" fill="#aaa"/>
<rect x="60" y="505" width="70" height="8" fill="#555"/>
<rect x="-9" y="372" width="9" height="22" fill="#000"/>
</g>
<text x="218.40" y="179.60" font-size="4.3" stroke="#000" stroke-width="0.12">6.31</text>
<text x="254.40" y="179.60" font-size="4.3" stroke="#000" stroke-width="0.12" text-anchor="end">5.70</text>
<text x="218.40" y="224.10" font-size="4.3" stroke="#000" stroke-width="0.12">87.7</text>
<text x="254.40" y="224.10" font-size="4.3" stroke="#000" stroke-width="0.12" text-anchor="end">0.17</text>
<text x="215.40" y="181.30" font-size="4.2" stroke="#000" stroke-width="0.1" text-anchor="end">10<tspan font-size="2.8" dy="-1.5">3</tspan></text>
<text x="215.40" y="193.80" font-size="4.2" stroke="#000" stroke-width="0.1" text-anchor="end">10<tspan font-size="2.8" dy="-1.5">2</tspan></text>
<text x="215.40" y="207.60" font-size="4.2" stroke="#000" stroke-width="0.1" text-anchor="end">10<tspan font-size="2.8" dy="-1.5">1</tspan></text>
<text x="215.40" y="216.00" font-size="4.2" stroke="#000" stroke-width="0.1" text-anchor="end">0</text>
<text x="215.40" y="223.80" font-size="4.2" stroke="#000" stroke-width="0.1" text-anchor="end">-10<tspan font-size="2.8" dy="-1.5">1</tspan></text>
<text x="227.40" y="232.10" font-size="4.2" stroke="#000" stroke-width="0.1" text-anchor="middle">0</text>
<text x="235.60" y="232.10" font-size="4.2" stroke="#000" stroke-width="0.1" textLength="18.8" lengthAdjust="spacingAndGlyphs">10<tspan font-size="2.8" dy="-1.5">3</tspan><tspan dy="1.5">10</tspan><tspan font-size="2.8" dy="-1.5">4</tspan><tspan dy="1.5">10</tspan><tspan font-size="2.8" dy="-1.5">5</tspan></text>
<g transform="translate(54,240) scale(0.1)">
<rect x="-2" y="-8" width="390" height="499" fill="#fff" stroke="#e2e2e2" stroke-width="9"/>
<path d="M85,135 C90,100 130,80 165,85 L190,95 L215,105 C210,130 200,150 195,175 C170,180 140,185 115,175 C95,168 83,155 85,135 Z" fill="#000" stroke="#000" stroke-width="18" stroke-linejoin="round"/>
<path d="M210,105 C230,70 270,20 295,12 C310,15 305,60 295,110 C285,160 270,220 255,260 C245,290 230,300 222,285 C215,260 215,220 210,180 Z" fill="#000" stroke="#000" stroke-width="18" stroke-linejoin="round"/>
<path d="M65,360 C70,330 110,270 150,240 C160,245 165,280 165,320 C165,350 150,365 120,368 C90,370 64,370 65,360 Z" fill="#000" stroke="#000" stroke-width="18" stroke-linejoin="round"/>
<path d="M85,135 C90,100 130,80 165,85 L190,95 L215,105 C210,130 200,150 195,175 C170,180 140,185 115,175 C95,168 83,155 85,135 Z" fill="#fdfdfd"/>
<path d="M210,105 C230,70 270,20 295,12 C310,15 305,60 295,110 C285,160 270,220 255,260 C245,290 230,300 222,285 C215,260 215,220 210,180 Z" fill="#e8e8e8"/>
<path d="M65,360 C70,330 110,270 150,240 C160,245 165,280 165,320 C165,350 150,365 120,368 C90,370 64,370 65,360 Z" fill="#fdfdfd"/>
<path d="M85,135 C90,100 130,80 165,85 L190,95 L215,105 C210,130 200,150 195,175 C170,180 140,185 115,175 C95,168 83,155 85,135 Z" fill="#ececec" stroke="#000" stroke-width="4.74" transform="translate(135,130) scale(0.760) translate(-135,-130)"/>
<path d="M85,135 C90,100 130,80 165,85 L190,95 L215,105 C210,130 200,150 195,175 C170,180 140,185 115,175 C95,168 83,155 85,135 Z" fill="#d8d8d8" stroke="#000" stroke-width="6.00" transform="translate(135,130) scale(0.600) translate(-135,-130)"/>
<path d="M85,135 C90,100 130,80 165,85 L190,95 L215,105 C210,130 200,150 195,175 C170,180 140,185 115,175 C95,168 83,155 85,135 Z" fill="#c0c0c0" stroke="#000" stroke-width="7.83" transform="translate(135,130) scale(0.460) translate(-135,-130)"/>
<path d="M85,135 C90,100 130,80 165,85 L190,95 L215,105 C210,130 200,150 195,175 C170,180 140,185 115,175 C95,168 83,155 85,135 Z" fill="#a6a6a6" stroke="#000" stroke-width="10.59" transform="translate(135,130) scale(0.340) translate(-135,-130)"/>
<path d="M85,135 C90,100 130,80 165,85 L190,95 L215,105 C210,130 200,150 195,175 C170,180 140,185 115,175 C95,168 83,155 85,135 Z" fill="#8c8c8c" stroke="#000" stroke-width="15.65" transform="translate(135,130) scale(0.230) translate(-135,-130)"/>
<path d="M85,135 C90,100 130,80 165,85 L190,95 L215,105 C210,130 200,150 195,175 C170,180 140,185 115,175 C95,168 83,155 85,135 Z" fill="#727272" stroke="#000" stroke-width="30.00" transform="translate(135,130) scale(0.120) translate(-135,-130)"/>
<path d="M210,105 C230,70 270,20 295,12 C310,15 305,60 295,110 C285,160 270,220 255,260 C245,290 230,300 222,285 C215,260 215,220 210,180 Z" fill="#bbb" stroke="#000" stroke-width="4.24" transform="translate(258,140) scale(0.850) translate(-258,-140)"/>
<path d="M210,105 C230,70 270,20 295,12 C310,15 305,60 295,110 C285,160 270,220 255,260 C245,290 230,300 222,285 C215,260 215,220 210,180 Z" fill="#ccc" stroke="#000" stroke-width="5.14" transform="translate(258,140) scale(0.700) translate(-258,-140)"/>
<path d="M210,105 C230,70 270,20 295,12 C310,15 305,60 295,110 C285,160 270,220 255,260 C245,290 230,300 222,285 C215,260 215,220 210,180 Z" fill="#aaa" stroke="#000" stroke-width="6.55" transform="translate(258,140) scale(0.550) translate(-258,-140)"/>
<path d="M210,105 C230,70 270,20 295,12 C310,15 305,60 295,110 C285,160 270,220 255,260 C245,290 230,300 222,285 C215,260 215,220 210,180 Z" fill="#bbb" stroke="#000" stroke-width="9.00" transform="translate(258,140) scale(0.400) translate(-258,-140)"/>
<path d="M210,105 C230,70 270,20 295,12 C310,15 305,60 295,110 C285,160 270,220 255,260 C245,290 230,300 222,285 C215,260 215,220 210,180 Z" fill="#999" stroke="#000" stroke-width="14.40" transform="translate(258,140) scale(0.250) translate(-258,-140)"/>
<path d="M65,360 C70,330 110,270 150,240 C160,245 165,280 165,320 C165,350 150,365 120,368 C90,370 64,370 65,360 Z" fill="#f0f0f0" stroke="#000" stroke-width="4.50" transform="translate(118,345) scale(0.800) translate(-118,-345)"/>
<path d="M65,360 C70,330 110,270 150,240 C160,245 165,280 165,320 C165,350 150,365 120,368 C90,370 64,370 65,360 Z" fill="#e0e0e0" stroke="#000" stroke-width="5.45" transform="translate(118,345) scale(0.660) translate(-118,-345)"/>
<path d="M65,360 C70,330 110,270 150,240 C160,245 165,280 165,320 C165,350 150,365 120,368 C90,370 64,370 65,360 Z" fill="#cecece" stroke="#000" stroke-width="6.55" transform="translate(118,345) scale(0.550) translate(-118,-345)"/>
<path d="M65,360 C70,330 110,270 150,240 C160,245 165,280 165,320 C165,350 150,365 120,368 C90,370 64,370 65,360 Z" fill="#bababa" stroke="#000" stroke-width="8.00" transform="translate(118,345) scale(0.450) translate(-118,-345)"/>
<path d="M65,360 C70,330 110,270 150,240 C160,245 165,280 165,320 C165,350 150,365 120,368 C90,370 64,370 65,360 Z" fill="#a6a6a6" stroke="#000" stroke-width="10.00" transform="translate(118,345) scale(0.360) translate(-118,-345)"/>
<path d="M65,360 C70,330 110,270 150,240 C160,245 165,280 165,320 C165,350 150,365 120,368 C90,370 64,370 65,360 Z" fill="#929292" stroke="#000" stroke-width="12.86" transform="translate(118,345) scale(0.280) translate(-118,-345)"/>
<path d="M65,360 C70,330 110,270 150,240 C160,245 165,280 165,320 C165,350 150,365 120,368 C90,370 64,370 65,360 Z" fill="#7e7e7e" stroke="#000" stroke-width="18.00" transform="translate(118,345) scale(0.200) translate(-118,-345)"/>
<path d="M65,360 C70,330 110,270 150,240 C160,245 165,280 165,320 C165,350 150,365 120,368 C90,370 64,370 65,360 Z" fill="#6a6a6a" stroke="#000" stroke-width="30.00" transform="translate(118,345) scale(0.120) translate(-118,-345)"/>
<path d="M65,360 C70,330 110,270 150,240 C160,245 165,280 165,320 C165,350 150,365 120,368 C90,370 64,370 65,360 Z" fill="#555" stroke="#000" stroke-width="72.00" transform="translate(118,345) scale(0.050) translate(-118,-345)"/>

<rect x="220" y="-8" width="10" height="499" fill="#9a9a9a"/>
<rect x="-2" y="210" width="390" height="20" fill="#a8a8a8"/>
<rect x="20" y="491" width="8" height="12" fill="#aaa"/>
<rect x="45" y="491" width="8" height="12" fill="#aaa"/>
<rect x="70" y="491" width="8" height="12" fill="#aaa"/>
<rect x="80" y="491" width="8" height="12" fill="#aaa"/>
<rect x="90" y="491" width="8" height="12" fill="#aaa"/>
<rect x="100" y="491" width="8" height="12" fill="#aaa"/>
<rect x="110" y="491" width="8" height="12" fill="#aaa"/>
<rect x="125" y="491" width="8" height="12" fill="#aaa"/>
<rect x="150" y="491" width="8" height="12" fill="#aaa"/>
<rect x="200" y="491" width="8" height="12" fill="#aaa"/>
<rect x="240" y="491" width="8" height="12" fill="#aaa"/>
<rect x="260" y="491" width="8" height="12" fill="#aaa"/>
<rect x="290" y="491" width="8" height="12" fill="#aaa"/>
<rect x="310" y="491" width="8" height="12" fill="#aaa"/>
<rect x="340" y="491" width="8" height="12" fill="#aaa"/>
<rect x="360" y="491" width="8" height="12" fill="#aaa"/>
<rect x="60" y="499" width="70" height="8" fill="#555"/>
<rect x="-9" y="365" width="9" height="22" fill="#000"/>
</g>
<text x="55.40" y="243.60" font-size="4.3" stroke="#000" stroke-width="0.12">9.97</text>
<text x="91.40" y="243.60" font-size="4.3" stroke="#000" stroke-width="0.12" text-anchor="end">12.4</text>
<text x="55.40" y="287.50" font-size="4.3" stroke="#000" stroke-width="0.12">34.9</text>
<text x="91.40" y="287.50" font-size="4.3" stroke="#000" stroke-width="0.12" text-anchor="end">3.76</text>
<text x="52.40" y="245.30" font-size="4.2" stroke="#000" stroke-width="0.1" text-anchor="end">10<tspan font-size="2.8" dy="-1.5">3</tspan></text>
<text x="52.40" y="257.60" font-size="4.2" stroke="#000" stroke-width="0.1" text-anchor="end">10<tspan font-size="2.8" dy="-1.5">2</tspan></text>
<text x="52.40" y="270.80" font-size="4.2" stroke="#000" stroke-width="0.1" text-anchor="end">10<tspan font-size="2.8" dy="-1.5">1</tspan></text>
<text x="52.40" y="279.30" font-size="4.2" stroke="#000" stroke-width="0.1" text-anchor="end">0</text>
<text x="52.40" y="287.10" font-size="4.2" stroke="#000" stroke-width="0.1" text-anchor="end">-10<tspan font-size="2.8" dy="-1.5">1</tspan></text>
<text x="64.40" y="295.50" font-size="4.2" stroke="#000" stroke-width="0.1" text-anchor="middle">0</text>
<text x="72.60" y="295.50" font-size="4.2" stroke="#000" stroke-width="0.1" textLength="18.8" lengthAdjust="spacingAndGlyphs">10<tspan font-size="2.8" dy="-1.5">3</tspan><tspan dy="1.5">10</tspan><tspan font-size="2.8" dy="-1.5">4</tspan><tspan dy="1.5">10</tspan><tspan font-size="2.8" dy="-1.5">5</tspan></text>
<g transform="translate(108,240) scale(0.1)">
<rect x="-2" y="-8" width="390" height="499" fill="#fff" stroke="#e2e2e2" stroke-width="9"/>
<path d="M80,140 C80,110 130,90 170,90 C200,92 215,105 210,125 C205,150 170,165 130,165 C95,165 80,158 80,140 Z" fill="#000" stroke="#000" stroke-width="18" stroke-linejoin="round"/>
<path d="M225,100 C235,70 265,25 290,15 C305,20 300,50 285,90 C270,130 255,160 235,165 C222,160 218,130 225,100 Z" fill="#000" stroke="#000" stroke-width="18" stroke-linejoin="round"/>
<path d="M55,360 C65,320 100,280 135,240 L175,240 C185,270 200,310 195,345 C185,370 150,385 110,388 C75,390 52,380 55,360 Z" fill="#000" stroke="#000" stroke-width="18" stroke-linejoin="round"/>
<path d="M80,140 C80,110 130,90 170,90 C200,92 215,105 210,125 C205,150 170,165 130,165 C95,165 80,158 80,140 Z" fill="#fdfdfd"/>
<path d="M225,100 C235,70 265,25 290,15 C305,20 300,50 285,90 C270,130 255,160 235,165 C222,160 218,130 225,100 Z" fill="#fcfcfc"/>
<path d="M55,360 C65,320 100,280 135,240 L175,240 C185,270 200,310 195,345 C185,370 150,385 110,388 C75,390 52,380 55,360 Z" fill="#fdfdfd"/>
<path d="M80,140 C80,110 130,90 170,90 C200,92 215,105 210,125 C205,150 170,165 130,165 C95,165 80,158 80,140 Z" fill="#ececec" stroke="#000" stroke-width="4.74" transform="translate(140,128) scale(0.760) translate(-140,-128)"/>
<path d="M80,140 C80,110 130,90 170,90 C200,92 215,105 210,125 C205,150 170,165 130,165 C95,165 80,158 80,140 Z" fill="#d8d8d8" stroke="#000" stroke-width="6.00" transform="translate(140,128) scale(0.600) translate(-140,-128)"/>
<path d="M80,140 C80,110 130,90 170,90 C200,92 215,105 210,125 C205,150 170,165 130,165 C95,165 80,158 80,140 Z" fill="#c0c0c0" stroke="#000" stroke-width="7.83" transform="translate(140,128) scale(0.460) translate(-140,-128)"/>
<path d="M80,140 C80,110 130,90 170,90 C200,92 215,105 210,125 C205,150 170,165 130,165 C95,165 80,158 80,140 Z" fill="#a6a6a6" stroke="#000" stroke-width="10.59" transform="translate(140,128) scale(0.340) translate(-140,-128)"/>
<path d="M80,140 C80,110 130,90 170,90 C200,92 215,105 210,125 C205,150 170,165 130,165 C95,165 80,158 80,140 Z" fill="#8c8c8c" stroke="#000" stroke-width="15.65" transform="translate(140,128) scale(0.230) translate(-140,-128)"/>
<path d="M80,140 C80,110 130,90 170,90 C200,92 215,105 210,125 C205,150 170,165 130,165 C95,165 80,158 80,140 Z" fill="#727272" stroke="#000" stroke-width="30.00" transform="translate(140,128) scale(0.120) translate(-140,-128)"/>
<path d="M225,100 C235,70 265,25 290,15 C305,20 300,50 285,90 C270,130 255,160 235,165 C222,160 218,130 225,100 Z" fill="#e6e6e6" stroke="#000" stroke-width="5.45" transform="translate(262,88) scale(0.660) translate(-262,-88)"/>
<path d="M225,100 C235,70 265,25 290,15 C305,20 300,50 285,90 C270,130 255,160 235,165 C222,160 218,130 225,100 Z" fill="#c8c8c8" stroke="#000" stroke-width="8.57" transform="translate(262,88) scale(0.420) translate(-262,-88)"/>
<path d="M225,100 C235,70 265,25 290,15 C305,20 300,50 285,90 C270,130 255,160 235,165 C222,160 218,130 225,100 Z" fill="#a0a0a0" stroke="#000" stroke-width="18.00" transform="translate(262,88) scale(0.200) translate(-262,-88)"/>
<path d="M55,360 C65,320 100,280 135,240 L175,240 C185,270 200,310 195,345 C185,370 150,385 110,388 C75,390 52,380 55,360 Z" fill="#f0f0f0" stroke="#000" stroke-width="4.50" transform="translate(112,362) scale(0.800) translate(-112,-362)"/>
<path d="M55,360 C65,320 100,280 135,240 L175,240 C185,270 200,310 195,345 C185,370 150,385 110,388 C75,390 52,380 55,360 Z" fill="#e0e0e0" stroke="#000" stroke-width="5.45" transform="translate(112,362) scale(0.660) translate(-112,-362)"/>
<path d="M55,360 C65,320 100,280 135,240 L175,240 C185,270 200,310 195,345 C185,370 150,385 110,388 C75,390 52,380 55,360 Z" fill="#cecece" stroke="#000" stroke-width="6.55" transform="translate(112,362) scale(0.550) translate(-112,-362)"/>
<path d="M55,360 C65,320 100,280 135,240 L175,240 C185,270 200,310 195,345 C185,370 150,385 110,388 C75,390 52,380 55,360 Z" fill="#bababa" stroke="#000" stroke-width="8.00" transform="translate(112,362) scale(0.450) translate(-112,-362)"/>
<path d="M55,360 C65,320 100,280 135,240 L175,240 C185,270 200,310 195,345 C185,370 150,385 110,388 C75,390 52,380 55,360 Z" fill="#a6a6a6" stroke="#000" stroke-width="10.00" transform="translate(112,362) scale(0.360) translate(-112,-362)"/>
<path d="M55,360 C65,320 100,280 135,240 L175,240 C185,270 200,310 195,345 C185,370 150,385 110,388 C75,390 52,380 55,360 Z" fill="#929292" stroke="#000" stroke-width="12.86" transform="translate(112,362) scale(0.280) translate(-112,-362)"/>
<path d="M55,360 C65,320 100,280 135,240 L175,240 C185,270 200,310 195,345 C185,370 150,385 110,388 C75,390 52,380 55,360 Z" fill="#7e7e7e" stroke="#000" stroke-width="18.00" transform="translate(112,362) scale(0.200) translate(-112,-362)"/>
<path d="M55,360 C65,320 100,280 135,240 L175,240 C185,270 200,310 195,345 C185,370 150,385 110,388 C75,390 52,380 55,360 Z" fill="#6a6a6a" stroke="#000" stroke-width="30.00" transform="translate(112,362) scale(0.120) translate(-112,-362)"/>
<path d="M55,360 C65,320 100,280 135,240 L175,240 C185,270 200,310 195,345 C185,370 150,385 110,388 C75,390 52,380 55,360 Z" fill="#555" stroke="#000" stroke-width="72.00" transform="translate(112,362) scale(0.050) translate(-112,-362)"/>
<path d="M135,240 L175,240" stroke="#000" stroke-width="30"/><path d="M205,135 L230,160" stroke="#000" stroke-width="20"/>
<rect x="220" y="-8" width="10" height="499" fill="#9a9a9a"/>
<rect x="-2" y="210" width="390" height="20" fill="#a8a8a8"/>
<rect x="20" y="491" width="8" height="12" fill="#aaa"/>
<rect x="45" y="491" width="8" height="12" fill="#aaa"/>
<rect x="70" y="491" width="8" height="12" fill="#aaa"/>
<rect x="80" y="491" width="8" height="12" fill="#aaa"/>
<rect x="90" y="491" width="8" height="12" fill="#aaa"/>
<rect x="100" y="491" width="8" height="12" fill="#aaa"/>
<rect x="110" y="491" width="8" height="12" fill="#aaa"/>
<rect x="125" y="491" width="8" height="12" fill="#aaa"/>
<rect x="150" y="491" width="8" height="12" fill="#aaa"/>
<rect x="200" y="491" width="8" height="12" fill="#aaa"/>
<rect x="240" y="491" width="8" height="12" fill="#aaa"/>
<rect x="260" y="491" width="8" height="12" fill="#aaa"/>
<rect x="290" y="491" width="8" height="12" fill="#aaa"/>
<rect x="310" y="491" width="8" height="12" fill="#aaa"/>
<rect x="340" y="491" width="8" height="12" fill="#aaa"/>
<rect x="360" y="491" width="8" height="12" fill="#aaa"/>
<rect x="60" y="499" width="70" height="8" fill="#555"/>
<rect x="-9" y="365" width="9" height="22" fill="#000"/>
</g>
<text x="109.40" y="243.60" font-size="4.3" stroke="#000" stroke-width="0.12">8.78</text>
<text x="145.40" y="243.60" font-size="4.3" stroke="#000" stroke-width="0.12" text-anchor="end">4.05</text>
<text x="109.40" y="287.50" font-size="4.3" stroke="#000" stroke-width="0.12">83.1</text>
<text x="145.40" y="287.50" font-size="4.3" stroke="#000" stroke-width="0.12" text-anchor="end">0.22</text>
<text x="106.40" y="245.30" font-size="4.2" stroke="#000" stroke-width="0.1" text-anchor="end">10<tspan font-size="2.8" dy="-1.5">3</tspan></text>
<text x="106.40" y="257.60" font-size="4.2" stroke="#000" stroke-width="0.1" text-anchor="end">10<tspan font-size="2.8" dy="-1.5">2</tspan></text>
<text x="106.40" y="270.80" font-size="4.2" stroke="#000" stroke-width="0.1" text-anchor="end">10<tspan font-size="2.8" dy="-1.5">1</tspan></text>
<text x="106.40" y="279.30" font-size="4.2" stroke="#000" stroke-width="0.1" text-anchor="end">0</text>
<text x="106.40" y="287.10" font-size="4.2" stroke="#000" stroke-width="0.1" text-anchor="end">-10<tspan font-size="2.8" dy="-1.5">1</tspan></text>
<text x="118.40" y="295.50" font-size="4.2" stroke="#000" stroke-width="0.1" text-anchor="middle">0</text>
<text x="126.60" y="295.50" font-size="4.2" stroke="#000" stroke-width="0.1" textLength="18.8" lengthAdjust="spacingAndGlyphs">10<tspan font-size="2.8" dy="-1.5">3</tspan><tspan dy="1.5">10</tspan><tspan font-size="2.8" dy="-1.5">4</tspan><tspan dy="1.5">10</tspan><tspan font-size="2.8" dy="-1.5">5</tspan></text>
<g transform="translate(162,240) scale(0.1)">
<rect x="-2" y="-8" width="390" height="499" fill="#fff" stroke="#e2e2e2" stroke-width="9"/>
<path d="M80,140 C85,110 140,70 175,60 C190,58 200,75 215,75 C200,110 190,150 175,172 C160,175 120,170 95,162 C82,155 78,150 80,140 Z" fill="#000" stroke="#000" stroke-width="18" stroke-linejoin="round"/>
<path d="M205,80 C230,60 255,25 285,15 C310,15 305,50 290,90 C275,130 255,160 220,170 C200,172 185,172 175,170 C190,140 198,110 205,80 Z" fill="#000" stroke="#000" stroke-width="18" stroke-linejoin="round"/>
<path d="M60,375 C65,340 100,280 140,210 L165,215 C175,260 185,320 175,355 C165,380 130,390 100,390 C75,390 58,388 60,375 Z" fill="#000" stroke="#000" stroke-width="18" stroke-linejoin="round"/>
<path d="M80,140 C85,110 140,70 175,60 C190,58 200,75 215,75 C200,110 190,150 175,172 C160,175 120,170 95,162 C82,155 78,150 80,140 Z" fill="#fdfdfd"/>
<path d="M205,80 C230,60 255,25 285,15 C310,15 305,50 290,90 C275,130 255,160 220,170 C200,172 185,172 175,170 C190,140 198,110 205,80 Z" fill="#fdfdfd"/>
<path d="M60,375 C65,340 100,280 140,210 L165,215 C175,260 185,320 175,355 C165,380 130,390 100,390 C75,390 58,388 60,375 Z" fill="#fdfdfd"/>
<path d="M80,140 C85,110 140,70 175,60 C190,58 200,75 215,75 C200,110 190,150 175,172 C160,175 120,170 95,162 C82,155 78,150 80,140 Z" fill="#ececec" stroke="#000" stroke-width="4.74" transform="translate(140,125) scale(0.760) translate(-140,-125)"/>
<path d="M80,140 C85,110 140,70 175,60 C190,58 200,75 215,75 C200,110 190,150 175,172 C160,175 120,170 95,162 C82,155 78,150 80,140 Z" fill="#d8d8d8" stroke="#000" stroke-width="6.00" transform="translate(140,125) scale(0.600) translate(-140,-125)"/>
<path d="M80,140 C85,110 140,70 175,60 C190,58 200,75 215,75 C200,110 190,150 175,172 C160,175 120,170 95,162 C82,155 78,150 80,140 Z" fill="#c0c0c0" stroke="#000" stroke-width="7.83" transform="translate(140,125) scale(0.460) translate(-140,-125)"/>
<path d="M80,140 C85,110 140,70 175,60 C190,58 200,75 215,75 C200,110 190,150 175,172 C160,175 120,170 95,162 C82,155 78,150 80,140 Z" fill="#a6a6a6" stroke="#000" stroke-width="10.59" transform="translate(140,125) scale(0.340) translate(-140,-125)"/>
<path d="M80,140 C85,110 140,70 175,60 C190,58 200,75 215,75 C200,110 190,150 175,172 C160,175 120,170 95,162 C82,155 78,150 80,140 Z" fill="#8c8c8c" stroke="#000" stroke-width="15.65" transform="translate(140,125) scale(0.230) translate(-140,-125)"/>
<path d="M80,140 C85,110 140,70 175,60 C190,58 200,75 215,75 C200,110 190,150 175,172 C160,175 120,170 95,162 C82,155 78,150 80,140 Z" fill="#727272" stroke="#000" stroke-width="30.00" transform="translate(140,125) scale(0.120) translate(-140,-125)"/>
<path d="M205,80 C230,60 255,25 285,15 C310,15 305,50 290,90 C275,130 255,160 220,170 C200,172 185,172 175,170 C190,140 198,110 205,80 Z" fill="#ececec" stroke="#000" stroke-width="4.74" transform="translate(258,70) scale(0.760) translate(-258,-70)"/>
<path d="M205,80 C230,60 255,25 285,15 C310,15 305,50 290,90 C275,130 255,160 220,170 C200,172 185,172 175,170 C190,140 198,110 205,80 Z" fill="#d8d8d8" stroke="#000" stroke-width="6.00" transform="translate(258,70) scale(0.600) translate(-258,-70)"/>
<path d="M205,80 C230,60 255,25 285,15 C310,15 305,50 290,90 C275,130 255,160 220,170 C200,172 185,172 175,170 C190,140 198,110 205,80 Z" fill="#c0c0c0" stroke="#000" stroke-width="7.83" transform="translate(258,70) scale(0.460) translate(-258,-70)"/>
<path d="M205,80 C230,60 255,25 285,15 C310,15 305,50 290,90 C275,130 255,160 220,170 C200,172 185,172 175,170 C190,140 198,110 205,80 Z" fill="#a6a6a6" stroke="#000" stroke-width="10.59" transform="translate(258,70) scale(0.340) translate(-258,-70)"/>
<path d="M205,80 C230,60 255,25 285,15 C310,15 305,50 290,90 C275,130 255,160 220,170 C200,172 185,172 175,170 C190,140 198,110 205,80 Z" fill="#8c8c8c" stroke="#000" stroke-width="15.65" transform="translate(258,70) scale(0.230) translate(-258,-70)"/>
<path d="M205,80 C230,60 255,25 285,15 C310,15 305,50 290,90 C275,130 255,160 220,170 C200,172 185,172 175,170 C190,140 198,110 205,80 Z" fill="#727272" stroke="#000" stroke-width="30.00" transform="translate(258,70) scale(0.120) translate(-258,-70)"/>
<path d="M60,375 C65,340 100,280 140,210 L165,215 C175,260 185,320 175,355 C165,380 130,390 100,390 C75,390 58,388 60,375 Z" fill="#f0f0f0" stroke="#000" stroke-width="4.50" transform="translate(118,362) scale(0.800) translate(-118,-362)"/>
<path d="M60,375 C65,340 100,280 140,210 L165,215 C175,260 185,320 175,355 C165,380 130,390 100,390 C75,390 58,388 60,375 Z" fill="#e0e0e0" stroke="#000" stroke-width="5.45" transform="translate(118,362) scale(0.660) translate(-118,-362)"/>
<path d="M60,375 C65,340 100,280 140,210 L165,215 C175,260 185,320 175,355 C165,380 130,390 100,390 C75,390 58,388 60,375 Z" fill="#cecece" stroke="#000" stroke-width="6.55" transform="translate(118,362) scale(0.550) translate(-118,-362)"/>
<path d="M60,375 C65,340 100,280 140,210 L165,215 C175,260 185,320 175,355 C165,380 130,390 100,390 C75,390 58,388 60,375 Z" fill="#bababa" stroke="#000" stroke-width="8.00" transform="translate(118,362) scale(0.450) translate(-118,-362)"/>
<path d="M60,375 C65,340 100,280 140,210 L165,215 C175,260 185,320 175,355 C165,380 130,390 100,390 C75,390 58,388 60,375 Z" fill="#a6a6a6" stroke="#000" stroke-width="10.00" transform="translate(118,362) scale(0.360) translate(-118,-362)"/>
<path d="M60,375 C65,340 100,280 140,210 L165,215 C175,260 185,320 175,355 C165,380 130,390 100,390 C75,390 58,388 60,375 Z" fill="#929292" stroke="#000" stroke-width="12.86" transform="translate(118,362) scale(0.280) translate(-118,-362)"/>
<path d="M60,375 C65,340 100,280 140,210 L165,215 C175,260 185,320 175,355 C165,380 130,390 100,390 C75,390 58,388 60,375 Z" fill="#7e7e7e" stroke="#000" stroke-width="18.00" transform="translate(118,362) scale(0.200) translate(-118,-362)"/>
<path d="M60,375 C65,340 100,280 140,210 L165,215 C175,260 185,320 175,355 C165,380 130,390 100,390 C75,390 58,388 60,375 Z" fill="#6a6a6a" stroke="#000" stroke-width="30.00" transform="translate(118,362) scale(0.120) translate(-118,-362)"/>
<path d="M60,375 C65,340 100,280 140,210 L165,215 C175,260 185,320 175,355 C165,380 130,390 100,390 C75,390 58,388 60,375 Z" fill="#555" stroke="#000" stroke-width="72.00" transform="translate(118,362) scale(0.050) translate(-118,-362)"/>
<path d="M160,170 L150,215" stroke="#000" stroke-width="28"/>
<rect x="220" y="-8" width="10" height="499" fill="#9a9a9a"/>
<rect x="-2" y="210" width="390" height="20" fill="#a8a8a8"/>
<rect x="20" y="491" width="8" height="12" fill="#aaa"/>
<rect x="45" y="491" width="8" height="12" fill="#aaa"/>
<rect x="70" y="491" width="8" height="12" fill="#aaa"/>
<rect x="80" y="491" width="8" height="12" fill="#aaa"/>
<rect x="90" y="491" width="8" height="12" fill="#aaa"/>
<rect x="100" y="491" width="8" height="12" fill="#aaa"/>
<rect x="110" y="491" width="8" height="12" fill="#aaa"/>
<rect x="125" y="491" width="8" height="12" fill="#aaa"/>
<rect x="150" y="491" width="8" height="12" fill="#aaa"/>
<rect x="200" y="491" width="8" height="12" fill="#aaa"/>
<rect x="240" y="491" width="8" height="12" fill="#aaa"/>
<rect x="260" y="491" width="8" height="12" fill="#aaa"/>
<rect x="290" y="491" width="8" height="12" fill="#aaa"/>
<rect x="310" y="491" width="8" height="12" fill="#aaa"/>
<rect x="340" y="491" width="8" height="12" fill="#aaa"/>
<rect x="360" y="491" width="8" height="12" fill="#aaa"/>
<rect x="60" y="499" width="70" height="8" fill="#555"/>
<rect x="-9" y="365" width="9" height="22" fill="#000"/>
</g>
<text x="163.40" y="243.60" font-size="4.3" stroke="#000" stroke-width="0.12">12.1</text>
<text x="199.40" y="243.60" font-size="4.3" stroke="#000" stroke-width="0.12" text-anchor="end">10.7</text>
<text x="163.40" y="287.50" font-size="4.3" stroke="#000" stroke-width="0.12">77.2</text>
<text x="199.40" y="287.50" font-size="4.3" stroke="#000" stroke-width="0.12" text-anchor="end">0.024</text>
<text x="160.40" y="245.30" font-size="4.2" stroke="#000" stroke-width="0.1" text-anchor="end">10<tspan font-size="2.8" dy="-1.5">3</tspan></text>
<text x="160.40" y="257.60" font-size="4.2" stroke="#000" stroke-width="0.1" text-anchor="end">10<tspan font-size="2.8" dy="-1.5">2</tspan></text>
<text x="160.40" y="270.80" font-size="4.2" stroke="#000" stroke-width="0.1" text-anchor="end">10<tspan font-size="2.8" dy="-1.5">1</tspan></text>
<text x="160.40" y="279.30" font-size="4.2" stroke="#000" stroke-width="0.1" text-anchor="end">0</text>
<text x="160.40" y="287.10" font-size="4.2" stroke="#000" stroke-width="0.1" text-anchor="end">-10<tspan font-size="2.8" dy="-1.5">1</tspan></text>
<text x="172.40" y="295.50" font-size="4.2" stroke="#000" stroke-width="0.1" text-anchor="middle">0</text>
<text x="180.60" y="295.50" font-size="4.2" stroke="#000" stroke-width="0.1" textLength="18.8" lengthAdjust="spacingAndGlyphs">10<tspan font-size="2.8" dy="-1.5">3</tspan><tspan dy="1.5">10</tspan><tspan font-size="2.8" dy="-1.5">4</tspan><tspan dy="1.5">10</tspan><tspan font-size="2.8" dy="-1.5">5</tspan></text>
<g transform="translate(217,240) scale(0.1)">
<rect x="-2" y="-8" width="390" height="499" fill="#fff" stroke="#e2e2e2" stroke-width="9"/>
<path d="M82,150 C82,118 115,98 150,98 C175,98 195,105 215,110 L222,150 C210,175 195,190 170,195 C140,198 110,192 95,180 C86,172 82,162 82,150 Z" fill="#000" stroke="#000" stroke-width="18" stroke-linejoin="round"/>
<path d="M222,115 C240,90 265,50 290,32 C308,28 308,55 298,95 C288,135 268,170 240,185 L222,185 C218,160 218,135 222,115 Z" fill="#000" stroke="#000" stroke-width="18" stroke-linejoin="round"/>
<path d="M68,372 C66,335 92,275 128,212 L156,212 C168,258 180,310 172,350 C162,380 132,392 102,392 C80,392 68,386 68,372 Z" fill="#000" stroke="#000" stroke-width="18" stroke-linejoin="round"/>
<path d="M82,150 C82,118 115,98 150,98 C175,98 195,105 215,110 L222,150 C210,175 195,190 170,195 C140,198 110,192 95,180 C86,172 82,162 82,150 Z" fill="#fdfdfd"/>
<path d="M222,115 C240,90 265,50 290,32 C308,28 308,55 298,95 C288,135 268,170 240,185 L222,185 C218,160 218,135 222,115 Z" fill="#fdfdfd"/>
<path d="M68,372 C66,335 92,275 128,212 L156,212 C168,258 180,310 172,350 C162,380 132,392 102,392 C80,392 68,386 68,372 Z" fill="#fdfdfd"/>
<path d="M82,150 C82,118 115,98 150,98 C175,98 195,105 215,110 L222,150 C210,175 195,190 170,195 C140,198 110,192 95,180 C86,172 82,162 82,150 Z" fill="#ececec" stroke="#000" stroke-width="4.74" transform="translate(128,150) scale(0.760) translate(-128,-150)"/>
<path d="M82,150 C82,118 115,98 150,98 C175,98 195,105 215,110 L222,150 C210,175 195,190 170,195 C140,198 110,192 95,180 C86,172 82,162 82,150 Z" fill="#d8d8d8" stroke="#000" stroke-width="6.00" transform="translate(128,150) scale(0.600) translate(-128,-150)"/>
<path d="M82,150 C82,118 115,98 150,98 C175,98 195,105 215,110 L222,150 C210,175 195,190 170,195 C140,198 110,192 95,180 C86,172 82,162 82,150 Z" fill="#c0c0c0" stroke="#000" stroke-width="7.83" transform="translate(128,150) scale(0.460) translate(-128,-150)"/>
<path d="M82,150 C82,118 115,98 150,98 C175,98 195,105 215,110 L222,150 C210,175 195,190 170,195 C140,198 110,192 95,180 C86,172 82,162 82,150 Z" fill="#a6a6a6" stroke="#000" stroke-width="10.59" transform="translate(128,150) scale(0.340) translate(-128,-150)"/>
<path d="M82,150 C82,118 115,98 150,98 C175,98 195,105 215,110 L222,150 C210,175 195,190 170,195 C140,198 110,192 95,180 C86,172 82,162 82,150 Z" fill="#8c8c8c" stroke="#000" stroke-width="15.65" transform="translate(128,150) scale(0.230) translate(-128,-150)"/>
<path d="M82,150 C82,118 115,98 150,98 C175,98 195,105 215,110 L222,150 C210,175 195,190 170,195 C140,198 110,192 95,180 C86,172 82,162 82,150 Z" fill="#727272" stroke="#000" stroke-width="30.00" transform="translate(128,150) scale(0.120) translate(-128,-150)"/>
<path d="M222,115 C240,90 265,50 290,32 C308,28 308,55 298,95 C288,135 268,170 240,185 L222,185 C218,160 218,135 222,115 Z" fill="#ececec" stroke="#000" stroke-width="4.74" transform="translate(268,95) scale(0.760) translate(-268,-95)"/>
<path d="M222,115 C240,90 265,50 290,32 C308,28 308,55 298,95 C288,135 268,170 240,185 L222,185 C218,160 218,135 222,115 Z" fill="#d8d8d8" stroke="#000" stroke-width="6.00" transform="translate(268,95) scale(0.600) translate(-268,-95)"/>
<path d="M222,115 C240,90 265,50 290,32 C308,28 308,55 298,95 C288,135 268,170 240,185 L222,185 C218,160 218,135 222,115 Z" fill="#c0c0c0" stroke="#000" stroke-width="7.83" transform="translate(268,95) scale(0.460) translate(-268,-95)"/>
<path d="M222,115 C240,90 265,50 290,32 C308,28 308,55 298,95 C288,135 268,170 240,185 L222,185 C218,160 218,135 222,115 Z" fill="#a6a6a6" stroke="#000" stroke-width="10.59" transform="translate(268,95) scale(0.340) translate(-268,-95)"/>
<path d="M222,115 C240,90 265,50 290,32 C308,28 308,55 298,95 C288,135 268,170 240,185 L222,185 C218,160 218,135 222,115 Z" fill="#8c8c8c" stroke="#000" stroke-width="15.65" transform="translate(268,95) scale(0.230) translate(-268,-95)"/>
<path d="M222,115 C240,90 265,50 290,32 C308,28 308,55 298,95 C288,135 268,170 240,185 L222,185 C218,160 218,135 222,115 Z" fill="#727272" stroke="#000" stroke-width="30.00" transform="translate(268,95) scale(0.120) translate(-268,-95)"/>
<path d="M68,372 C66,335 92,275 128,212 L156,212 C168,258 180,310 172,350 C162,380 132,392 102,392 C80,392 68,386 68,372 Z" fill="#f0f0f0" stroke="#000" stroke-width="4.50" transform="translate(112,352) scale(0.800) translate(-112,-352)"/>
<path d="M68,372 C66,335 92,275 128,212 L156,212 C168,258 180,310 172,350 C162,380 132,392 102,392 C80,392 68,386 68,372 Z" fill="#e0e0e0" stroke="#000" stroke-width="5.45" transform="translate(112,352) scale(0.660) translate(-112,-352)"/>
<path d="M68,372 C66,335 92,275 128,212 L156,212 C168,258 180,310 172,350 C162,380 132,392 102,392 C80,392 68,386 68,372 Z" fill="#cecece" stroke="#000" stroke-width="6.55" transform="translate(112,352) scale(0.550) translate(-112,-352)"/>
<path d="M68,372 C66,335 92,275 128,212 L156,212 C168,258 180,310 172,350 C162,380 132,392 102,392 C80,392 68,386 68,372 Z" fill="#bababa" stroke="#000" stroke-width="8.00" transform="translate(112,352) scale(0.450) translate(-112,-352)"/>
<path d="M68,372 C66,335 92,275 128,212 L156,212 C168,258 180,310 172,350 C162,380 132,392 102,392 C80,392 68,386 68,372 Z" fill="#a6a6a6" stroke="#000" stroke-width="10.00" transform="translate(112,352) scale(0.360) translate(-112,-352)"/>
<path d="M68,372 C66,335 92,275 128,212 L156,212 C168,258 180,310 172,350 C162,380 132,392 102,392 C80,392 68,386 68,372 Z" fill="#929292" stroke="#000" stroke-width="12.86" transform="translate(112,352) scale(0.280) translate(-112,-352)"/>
<path d="M68,372 C66,335 92,275 128,212 L156,212 C168,258 180,310 172,350 C162,380 132,392 102,392 C80,392 68,386 68,372 Z" fill="#7e7e7e" stroke="#000" stroke-width="18.00" transform="translate(112,352) scale(0.200) translate(-112,-352)"/>
<path d="M68,372 C66,335 92,275 128,212 L156,212 C168,258 180,310 172,350 C162,380 132,392 102,392 C80,392 68,386 68,372 Z" fill="#6a6a6a" stroke="#000" stroke-width="30.00" transform="translate(112,352) scale(0.120) translate(-112,-352)"/>
<path d="M68,372 C66,335 92,275 128,212 L156,212 C168,258 180,310 172,350 C162,380 132,392 102,392 C80,392 68,386 68,372 Z" fill="#555" stroke="#000" stroke-width="72.00" transform="translate(112,352) scale(0.050) translate(-112,-352)"/>
<path d="M128,208 L156,208" stroke="#000" stroke-width="20"/><path d="M150,196 L230,190" stroke="#000" stroke-width="14"/>
<rect x="220" y="-8" width="10" height="499" fill="#9a9a9a"/>
<rect x="-2" y="210" width="390" height="20" fill="#a8a8a8"/>
<rect x="20" y="491" width="8" height="12" fill="#aaa"/>
<rect x="45" y="491" width="8" height="12" fill="#aaa"/>
<rect x="70" y="491" width="8" height="12" fill="#aaa"/>
<rect x="80" y="491" width="8" height="12" fill="#aaa"/>
<rect x="90" y="491" width="8" height="12" fill="#aaa"/>
<rect x="100" y="491" width="8" height="12" fill="#aaa"/>
<rect x="110" y="491" width="8" height="12" fill="#aaa"/>
<rect x="125" y="491" width="8" height="12" fill="#aaa"/>
<rect x="150" y="491" width="8" height="12" fill="#aaa"/>
<rect x="200" y="491" width="8" height="12" fill="#aaa"/>
<rect x="240" y="491" width="8" height="12" fill="#aaa"/>
<rect x="260" y="491" width="8" height="12" fill="#aaa"/>
<rect x="290" y="491" width="8" height="12" fill="#aaa"/>
<rect x="310" y="491" width="8" height="12" fill="#aaa"/>
<rect x="340" y="491" width="8" height="12" fill="#aaa"/>
<rect x="360" y="491" width="8" height="12" fill="#aaa"/>
<rect x="60" y="499" width="70" height="8" fill="#555"/>
<rect x="-9" y="365" width="9" height="22" fill="#000"/>
</g>
<text x="218.40" y="243.60" font-size="4.3" stroke="#000" stroke-width="0.12">12.3</text>
<text x="254.40" y="243.60" font-size="4.3" stroke="#000" stroke-width="0.12" text-anchor="end">14.2</text>
<text x="218.40" y="287.50" font-size="4.3" stroke="#000" stroke-width="0.12">73.4</text>
<text x="254.40" y="287.50" font-size="4.3" stroke="#000" stroke-width="0.12" text-anchor="end">0.071</text>
<text x="215.40" y="245.30" font-size="4.2" stroke="#000" stroke-width="0.1" text-anchor="end">10<tspan font-size="2.8" dy="-1.5">3</tspan></text>
<text x="215.40" y="257.60" font-size="4.2" stroke="#000" stroke-width="0.1" text-anchor="end">10<tspan font-size="2.8" dy="-1.5">2</tspan></text>
<text x="215.40" y="270.80" font-size="4.2" stroke="#000" stroke-width="0.1" text-anchor="end">10<tspan font-size="2.8" dy="-1.5">1</tspan></text>
<text x="215.40" y="279.30" font-size="4.2" stroke="#000" stroke-width="0.1" text-anchor="end">0</text>
<text x="215.40" y="287.10" font-size="4.2" stroke="#000" stroke-width="0.1" text-anchor="end">-10<tspan font-size="2.8" dy="-1.5">1</tspan></text>
<text x="227.40" y="295.50" font-size="4.2" stroke="#000" stroke-width="0.1" text-anchor="middle">0</text>
<text x="235.60" y="295.50" font-size="4.2" stroke="#000" stroke-width="0.1" textLength="18.8" lengthAdjust="spacingAndGlyphs">10<tspan font-size="2.8" dy="-1.5">3</tspan><tspan dy="1.5">10</tspan><tspan font-size="2.8" dy="-1.5">4</tspan><tspan dy="1.5">10</tspan><tspan font-size="2.8" dy="-1.5">5</tspan></text>
<text x="7" y="155.6" font-size="12" font-weight="bold">C</text>
<text x="73.4" y="172.6" font-size="8.2" text-anchor="middle">Cas9</text>
<text x="127.5" y="172.6" font-size="8.2" text-anchor="middle">KO 3 x 10<tspan font-size="5.8" dy="-3.3">6</tspan></text>
<text x="181.5" y="172.6" font-size="8.2" text-anchor="middle">KO 25 x 10<tspan font-size="5.8" dy="-3.3">6</tspan></text>
<text x="236" y="172.6" font-size="8.2" text-anchor="middle">KO 100 x 10<tspan font-size="5.8" dy="-3.3">6</tspan></text>
<text transform="translate(26.6,200.2) rotate(-90)" font-size="7.8" text-anchor="middle" textLength="34" lengthAdjust="spacingAndGlyphs">Untreated</text>
<text transform="translate(26.6,264.2) rotate(-90)" font-size="7.8" text-anchor="middle">Dexa</text>
<rect x="35.2" y="175.2" width="0.9" height="37.4" fill="#000"/>
<rect x="35.2" y="251.4" width="0.9" height="37.8" fill="#000"/>
<text transform="translate(39.4,232.6) rotate(-90)" font-size="9.4" font-weight="bold" text-anchor="middle" textLength="29.6" lengthAdjust="spacingAndGlyphs">Annexin-V</text>
<rect x="54.3" y="304.8" width="83.1" height="0.9" fill="#000"/>
<rect x="171.7" y="304.8" width="83.5" height="0.9" fill="#000"/>
<text x="140" y="308.4" font-size="9.2" font-weight="bold" textLength="29" lengthAdjust="spacingAndGlyphs">Live/dead</text>
<text x="276.4" y="156.2" font-size="12" font-weight="bold">D</text>
<rect x="331.7" y="168.6" width="1.1" height="114.1" fill="#111"/>
<rect x="331.7" y="281.65" width="115.6" height="1.1" fill="#111"/>
<rect x="329" y="281.75" width="3" height="0.9" fill="#111"/>
<text x="325.8" y="285.00" font-size="7.9" text-anchor="end">0</text>
<rect x="329" y="259.13" width="3" height="0.9" fill="#111"/>
<text x="302.8" y="262.38" font-size="7.9" textLength="23.2" lengthAdjust="spacingAndGlyphs">1×10<tspan font-size="5.4" dy="-3.2">8</tspan></text>
<rect x="329" y="236.51" width="3" height="0.9" fill="#111"/>
<text x="302.8" y="239.76" font-size="7.9" textLength="23.2" lengthAdjust="spacingAndGlyphs">2×10<tspan font-size="5.4" dy="-3.2">8</tspan></text>
<rect x="329" y="213.89" width="3" height="0.9" fill="#111"/>
<text x="302.8" y="217.14" font-size="7.9" textLength="23.2" lengthAdjust="spacingAndGlyphs">3×10<tspan font-size="5.4" dy="-3.2">8</tspan></text>
<rect x="329" y="191.27" width="3" height="0.9" fill="#111"/>
<text x="302.8" y="194.52" font-size="7.9" textLength="23.2" lengthAdjust="spacingAndGlyphs">4×10<tspan font-size="5.4" dy="-3.2">8</tspan></text>
<rect x="329" y="168.65" width="3" height="0.9" fill="#111"/>
<text x="302.8" y="171.90" font-size="7.9" textLength="23.2" lengthAdjust="spacingAndGlyphs">5×10<tspan font-size="5.4" dy="-3.2">8</tspan></text>
<rect x="346.05" y="282.2" width="0.9" height="2.8" fill="#111"/>
<text x="346.5" y="295.6" font-size="7.8" text-anchor="middle">0</text>
<rect x="374.75" y="282.2" width="0.9" height="2.8" fill="#111"/>
<text x="375.2" y="295.6" font-size="7.8" text-anchor="middle">3</text>
<rect x="403.55" y="282.2" width="0.9" height="2.8" fill="#111"/>
<text x="404.0" y="295.6" font-size="7.8" text-anchor="middle">5</text>
<rect x="432.15000000000003" y="282.2" width="0.9" height="2.8" fill="#111"/>
<text x="432.6" y="295.6" font-size="7.8" text-anchor="middle">7</text>
<text x="390.2" y="308" font-size="8.2" text-anchor="middle" textLength="36.5" lengthAdjust="spacingAndGlyphs">Time (days)</text>
<text transform="translate(297.4,224.3) rotate(-90)" font-size="8.2" text-anchor="middle" textLength="63.6" lengthAdjust="spacingAndGlyphs">Absolute cell number</text>
<polyline points="346.5,281.52 375.2,280.39 404.0,278.58 432.6,275.19" fill="none" stroke="#5cb346" stroke-width="1"/>
<circle cx="346.5" cy="281.52" r="1.7" fill="#5cb346"/>
<circle cx="375.2" cy="280.39" r="1.7" fill="#5cb346"/>
<circle cx="404.0" cy="278.58" r="1.7" fill="#5cb346"/>
<circle cx="432.6" cy="275.19" r="1.7" fill="#5cb346"/>
<polyline points="346.5,281.75 375.2,280.84 404.0,279.03 432.6,275.41" fill="none" stroke="#5cb346" stroke-width="1" stroke-dasharray="1.6,1"/>
<circle cx="346.5" cy="281.75" r="1.7" fill="#5cb346"/>
<circle cx="375.2" cy="280.84" r="1.7" fill="#5cb346"/>
<circle cx="404.0" cy="279.03" r="1.7" fill="#5cb346"/>
<circle cx="432.6" cy="275.41" r="1.7" fill="#5cb346"/>
<polyline points="346.5,276.32 375.2,270.44 404.0,264.78 432.6,254.38" fill="none" stroke="#2b4c8c" stroke-width="1"/>
<line x1="346.5" y1="274.96" x2="346.5" y2="277.68" stroke="#2b4c8c" stroke-width="0.9"/>
<line x1="345.0" y1="274.96" x2="348.0" y2="274.96" stroke="#2b4c8c" stroke-width="0.9"/>
<line x1="375.2" y1="269.31" x2="375.2" y2="271.57" stroke="#2b4c8c" stroke-width="0.9"/>
<line x1="373.7" y1="269.31" x2="376.7" y2="269.31" stroke="#2b4c8c" stroke-width="0.9"/>
<line x1="404.0" y1="263.65" x2="404.0" y2="265.91" stroke="#2b4c8c" stroke-width="0.9"/>
<line x1="402.5" y1="263.65" x2="405.5" y2="263.65" stroke="#2b4c8c" stroke-width="0.9"/>
<line x1="432.6" y1="249.85" x2="432.6" y2="258.90" stroke="#2b4c8c" stroke-width="0.9"/>
<line x1="431.1" y1="249.85" x2="434.1" y2="249.85" stroke="#2b4c8c" stroke-width="0.9"/>
<path d="M346.5,274.52 L348.2,276.32 L346.5,278.12 L344.8,276.32 Z" fill="#2b4c8c"/>
<path d="M375.2,268.64 L376.9,270.44 L375.2,272.24 L373.5,270.44 Z" fill="#2b4c8c"/>
<path d="M404.0,262.98 L405.7,264.78 L404.0,266.58 L402.3,264.78 Z" fill="#2b4c8c"/>
<path d="M432.6,252.58 L434.3,254.38 L432.6,256.18 L430.90000000000003,254.38 Z" fill="#2b4c8c"/>
<polyline points="346.5,276.55 375.2,270.89 404.0,265.46 432.6,254.83" fill="none" stroke="#2b4c8c" stroke-width="1" stroke-dasharray="1,0.8"/>
<polyline points="346.5,276.55 375.2,270.89 404.0,265.46 432.6,254.83" fill="none" stroke="#2b4c8c" stroke-width="2.6" stroke-dasharray="0.7,1.5" opacity="0.75"/>
<line x1="346.5" y1="275.64" x2="346.5" y2="277.45" stroke="#2b4c8c" stroke-width="0.9"/>
<line x1="345.0" y1="275.64" x2="348.0" y2="275.64" stroke="#2b4c8c" stroke-width="0.9"/>
<line x1="375.2" y1="269.99" x2="375.2" y2="271.79" stroke="#2b4c8c" stroke-width="0.9"/>
<line x1="373.7" y1="269.99" x2="376.7" y2="269.99" stroke="#2b4c8c" stroke-width="0.9"/>
<line x1="404.0" y1="264.56" x2="404.0" y2="266.37" stroke="#2b4c8c" stroke-width="0.9"/>
<line x1="402.5" y1="264.56" x2="405.5" y2="264.56" stroke="#2b4c8c" stroke-width="0.9"/>
<line x1="432.6" y1="252.57" x2="432.6" y2="257.09" stroke="#2b4c8c" stroke-width="0.9"/>
<line x1="431.1" y1="252.57" x2="434.1" y2="252.57" stroke="#2b4c8c" stroke-width="0.9"/>
<path d="M346.5,274.75 L348.2,276.55 L346.5,278.35 L344.8,276.55 Z" fill="#2b4c8c"/>
<path d="M375.2,269.09 L376.9,270.89 L375.2,272.69 L373.5,270.89 Z" fill="#2b4c8c"/>
<path d="M404.0,263.66 L405.7,265.46 L404.0,267.26 L402.3,265.46 Z" fill="#2b4c8c"/>
<path d="M432.6,253.03 L434.3,254.83 L432.6,256.63 L430.90000000000003,254.83 Z" fill="#2b4c8c"/>
<polyline points="346.5,259.58 375.2,241.26 404.0,223.39 432.6,198.05" fill="none" stroke="#b3153b" stroke-width="1"/>
<line x1="375.2" y1="238.09" x2="375.2" y2="244.42" stroke="#b3153b" stroke-width="0.9"/>
<line x1="373.7" y1="238.09" x2="376.7" y2="238.09" stroke="#b3153b" stroke-width="0.9"/>
<line x1="404.0" y1="216.60" x2="404.0" y2="230.17" stroke="#b3153b" stroke-width="0.9"/>
<line x1="402.5" y1="216.60" x2="405.5" y2="216.60" stroke="#b3153b" stroke-width="0.9"/>
<line x1="432.6" y1="189.46" x2="432.6" y2="206.65" stroke="#b3153b" stroke-width="0.9"/>
<line x1="431.1" y1="189.46" x2="434.1" y2="189.46" stroke="#b3153b" stroke-width="0.9"/>
<path d="M346.5,257.78 L348.2,259.58 L346.5,261.38 L344.8,259.58 Z" fill="#b3153b"/>
<path d="M375.2,239.46 L376.9,241.26 L375.2,243.06 L373.5,241.26 Z" fill="#b3153b"/>
<path d="M404.0,221.59 L405.7,223.39 L404.0,225.19 L402.3,223.39 Z" fill="#b3153b"/>
<path d="M432.6,196.25 L434.3,198.05 L432.6,199.85 L430.90000000000003,198.05 Z" fill="#b3153b"/>
<polyline points="346.5,259.58 375.2,245.33 404.0,226.33 432.6,199.41" fill="none" stroke="#b3153b" stroke-width="1" stroke-dasharray="1.8,1"/>
<line x1="375.2" y1="244.20" x2="375.2" y2="246.46" stroke="#b3153b" stroke-width="0.9"/>
<line x1="373.7" y1="244.20" x2="376.7" y2="244.20" stroke="#b3153b" stroke-width="0.9"/>
<line x1="404.0" y1="225.20" x2="404.0" y2="227.46" stroke="#b3153b" stroke-width="0.9"/>
<line x1="402.5" y1="225.20" x2="405.5" y2="225.20" stroke="#b3153b" stroke-width="0.9"/>
<line x1="432.6" y1="194.89" x2="432.6" y2="203.93" stroke="#b3153b" stroke-width="0.9"/>
<line x1="431.1" y1="194.89" x2="434.1" y2="194.89" stroke="#b3153b" stroke-width="0.9"/>
<path d="M346.5,257.78 L348.2,259.58 L346.5,261.38 L344.8,259.58 Z" fill="#b3153b"/>
<path d="M375.2,243.53 L376.9,245.33 L375.2,247.13 L373.5,245.33 Z" fill="#b3153b"/>
<path d="M404.0,224.53 L405.7,226.33 L404.0,228.13 L402.3,226.33 Z" fill="#b3153b"/>
<path d="M432.6,197.61 L434.3,199.41 L432.6,201.21 L430.90000000000003,199.41 Z" fill="#b3153b"/>
<rect x="448.9" y="176.70" width="8.2" height="1.2" fill="#5cb346"/>
<path d="M453,175.30 L455,177.30 L453,179.30 L451,177.30 Z" fill="#5cb346"/>
<text x="460.5" y="179.60" font-size="8.1" textLength="41" lengthAdjust="spacingAndGlyphs">Cas9 3x10<tspan font-size="5.6" dy="-3.4">6</tspan></text>
<rect x="448.9" y="191.82" width="8.2" height="1.2" fill="#5cb346"/>
<path d="M453,190.42 L455,192.42 L453,194.42 L451,192.42 Z" fill="#5cb346"/>
<text x="460.5" y="194.72" font-size="8.1" textLength="36" lengthAdjust="spacingAndGlyphs">KO 3x10<tspan font-size="5.6" dy="-3.4">6</tspan></text>
<rect x="448.9" y="206.94" width="8.2" height="1.2" fill="#2b4c8c"/>
<path d="M453,205.54 L455,207.54 L453,209.54 L451,207.54 Z" fill="#2b4c8c"/>
<text x="460.5" y="209.84" font-size="8.1" textLength="46.6" lengthAdjust="spacingAndGlyphs">Cas9 25x10<tspan font-size="5.6" dy="-3.4">6</tspan></text>
<rect x="448.9" y="222.06" width="8.2" height="1.2" fill="#2b4c8c"/>
<path d="M453,220.66 L455,222.66 L453,224.66 L451,222.66 Z" fill="#2b4c8c"/>
<text x="460.5" y="224.96" font-size="8.1" textLength="40.6" lengthAdjust="spacingAndGlyphs">KO 25x10<tspan font-size="5.6" dy="-3.4">6</tspan></text>
<rect x="448.9" y="237.18" width="8.2" height="1.2" fill="#b3153b"/>
<path d="M453,235.78 L455,237.78 L453,239.78 L451,237.78 Z" fill="#b3153b"/>
<text x="460.5" y="240.08" font-size="8.1" textLength="52" lengthAdjust="spacingAndGlyphs">Cas9 100x10<tspan font-size="5.6" dy="-3.4">6</tspan></text>
<rect x="448.9" y="252.30" width="8.2" height="1.2" fill="#b3153b"/>
<path d="M453,250.90 L455,252.90 L453,254.90 L451,252.90 Z" fill="#b3153b"/>
<text x="460.5" y="255.20" font-size="8.1" textLength="45.6" lengthAdjust="spacingAndGlyphs">KO 100x10<tspan font-size="5.6" dy="-3.4">6</tspan></text>
<text x="7.9" y="338" font-size="12" font-weight="bold">E</text>
<rect x="47.95" y="350" width="1.1" height="52.30000000000001" fill="#111"/>
<rect x="47.95" y="411.4" width="1.1" height="51.650000000000034" fill="#111"/>
<rect x="45.9" y="401.85" width="5.2" height="0.9" fill="#111"/>
<rect x="45.9" y="410.95" width="5.2" height="0.9" fill="#111"/>
<rect x="47.95" y="462.0" width="157.9" height="1.1" fill="#111"/>
<rect x="45.5" y="350.75" width="3" height="0.9" fill="#111"/>
<text x="41.6" y="353.95" font-size="7.8" text-anchor="end" textLength="9.1" lengthAdjust="spacingAndGlyphs">50</text>
<rect x="45.5" y="362.20" width="3" height="0.9" fill="#111"/>
<text x="41.6" y="365.40" font-size="7.8" text-anchor="end" textLength="9.1" lengthAdjust="spacingAndGlyphs">40</text>
<rect x="45.5" y="373.65" width="3" height="0.9" fill="#111"/>
<text x="41.6" y="376.85" font-size="7.8" text-anchor="end" textLength="9.1" lengthAdjust="spacingAndGlyphs">30</text>
<rect x="45.5" y="385.10" width="3" height="0.9" fill="#111"/>
<text x="41.6" y="388.30" font-size="7.8" text-anchor="end" textLength="9.1" lengthAdjust="spacingAndGlyphs">20</text>
<rect x="45.5" y="396.55" width="3" height="0.9" fill="#111"/>
<text x="41.6" y="399.75" font-size="7.8" text-anchor="end" textLength="9.1" lengthAdjust="spacingAndGlyphs">10</text>
<rect x="45.5" y="410.95" width="3" height="0.9" fill="#111"/>
<text x="41.6" y="414.15" font-size="7.8" text-anchor="end" textLength="4.55" lengthAdjust="spacingAndGlyphs">3</text>
<rect x="45.5" y="428.15" width="3" height="0.9" fill="#111"/>
<text x="41.6" y="431.35" font-size="7.8" text-anchor="end" textLength="4.55" lengthAdjust="spacingAndGlyphs">2</text>
<rect x="45.5" y="445.35" width="3" height="0.9" fill="#111"/>
<text x="41.6" y="448.55" font-size="7.8" text-anchor="end" textLength="4.55" lengthAdjust="spacingAndGlyphs">1</text>
<rect x="45.5" y="462.55" width="3" height="0.9" fill="#111"/>
<text x="41.6" y="465.75" font-size="7.8" text-anchor="end" textLength="4.55" lengthAdjust="spacingAndGlyphs">0</text>
<text transform="translate(25.9,405.5) rotate(-90)" font-size="8.6" text-anchor="middle" textLength="49" lengthAdjust="spacingAndGlyphs">Percentage (%)</text>
<rect x="54.1" y="391" width="8" height="71.55000000000001" fill="#b8d49a"/>
<line x1="58.1" y1="380.5" x2="58.1" y2="400" stroke="#5cb346" stroke-width="1" opacity="0.8"/>
<line x1="56.1" y1="380.5" x2="60.1" y2="380.5" stroke="#5cb346" stroke-width="1" opacity="0.8"/>
<line x1="56.1" y1="400" x2="60.1" y2="400" stroke="#5cb346" stroke-width="1" opacity="0.8"/>
<circle cx="55.7" cy="383.4" r="1.90" fill="#5cb346"/>
<circle cx="60.1" cy="386" r="1.90" fill="#5cb346"/>
<circle cx="57.9" cy="400" r="1.90" fill="#5cb346"/>
<rect x="69.0" y="380.8" width="8" height="81.75" fill="#8f97bd"/>
<line x1="73.0" y1="364.7" x2="73.0" y2="395.1" stroke="#2b4c8c" stroke-width="1" opacity="0.8"/>
<line x1="71.0" y1="364.7" x2="75.0" y2="364.7" stroke="#2b4c8c" stroke-width="1" opacity="0.8"/>
<line x1="71.0" y1="395.1" x2="75.0" y2="395.1" stroke="#2b4c8c" stroke-width="1" opacity="0.8"/>
<rect x="71.10" y="362.90" width="3.60" height="3.60" fill="#2b4c8c"/>
<rect x="71.10" y="376.80" width="3.60" height="3.60" fill="#2b4c8c"/>
<rect x="71.10" y="393.30" width="3.60" height="3.60" fill="#2b4c8c"/>
<rect x="83.9" y="384.7" width="8" height="77.85000000000002" fill="#d08a7c"/>
<line x1="87.9" y1="379" x2="87.9" y2="389" stroke="#b3153b" stroke-width="1" opacity="0.8"/>
<line x1="85.9" y1="379" x2="89.9" y2="379" stroke="#b3153b" stroke-width="1" opacity="0.8"/>
<line x1="85.9" y1="389" x2="89.9" y2="389" stroke="#b3153b" stroke-width="1" opacity="0.8"/>
<path d="M87.4,377.90 L89.30,381.40 L85.50,381.40 Z" fill="#b3153b"/>
<path d="M85.4,384.20 L87.30,387.70 L83.50,387.70 Z" fill="#b3153b"/>
<path d="M90.1,385.90 L92.00,389.40 L88.20,389.40 Z" fill="#b3153b"/>
<rect x="72.55" y="462.55" width="0.9" height="2.6" fill="#111"/>
<text x="73.0" y="476" font-size="7.3" text-anchor="middle" textLength="19" lengthAdjust="spacingAndGlyphs">IFN-γ</text>
<rect x="108.5" y="393.2" width="8" height="69.35000000000002" fill="#b8d49a"/>
<line x1="112.5" y1="386" x2="112.5" y2="399" stroke="#5cb346" stroke-width="1" opacity="0.8"/>
<line x1="110.5" y1="386" x2="114.5" y2="386" stroke="#5cb346" stroke-width="1" opacity="0.8"/>
<line x1="110.5" y1="399" x2="114.5" y2="399" stroke="#5cb346" stroke-width="1" opacity="0.8"/>
<circle cx="110.6" cy="387.6" r="1.90" fill="#5cb346"/>
<circle cx="114.6" cy="391.2" r="1.90" fill="#5cb346"/>
<circle cx="112.6" cy="398.8" r="1.90" fill="#5cb346"/>
<rect x="123.4" y="384.8" width="8" height="77.75" fill="#8f97bd"/>
<line x1="127.4" y1="370.8" x2="127.4" y2="394.6" stroke="#2b4c8c" stroke-width="1" opacity="0.8"/>
<line x1="125.4" y1="370.8" x2="129.4" y2="370.8" stroke="#2b4c8c" stroke-width="1" opacity="0.8"/>
<line x1="125.4" y1="394.6" x2="129.4" y2="394.6" stroke="#2b4c8c" stroke-width="1" opacity="0.8"/>
<rect x="125.70" y="369.00" width="3.60" height="3.60" fill="#2b4c8c"/>
<rect x="125.70" y="383.00" width="3.60" height="3.60" fill="#2b4c8c"/>
<rect x="125.70" y="392.80" width="3.60" height="3.60" fill="#2b4c8c"/>
<rect x="138.3" y="388.1" width="8" height="74.44999999999999" fill="#d08a7c"/>
<line x1="142.3" y1="386.5" x2="142.3" y2="390.5" stroke="#b3153b" stroke-width="1" opacity="0.8"/>
<line x1="140.3" y1="386.5" x2="144.3" y2="386.5" stroke="#b3153b" stroke-width="1" opacity="0.8"/>
<line x1="140.3" y1="390.5" x2="144.3" y2="390.5" stroke="#b3153b" stroke-width="1" opacity="0.8"/>
<path d="M140.6,385.50 L142.50,389.00 L138.70,389.00 Z" fill="#b3153b"/>
<path d="M142.5,386.90 L144.40,390.40 L140.60,390.40 Z" fill="#b3153b"/>
<path d="M144,387.70 L145.90,391.20 L142.10,391.20 Z" fill="#b3153b"/>
<rect x="126.95" y="462.55" width="0.9" height="2.6" fill="#111"/>
<text x="127.4" y="476" font-size="7.3" text-anchor="middle" textLength="22.6" lengthAdjust="spacingAndGlyphs">TNF-α</text>
<rect x="162.8" y="444.1" width="8" height="18.44999999999999" fill="#b8d49a"/>
<line x1="166.8" y1="425.2" x2="166.8" y2="458" stroke="#5cb346" stroke-width="1" opacity="0.8"/>
<line x1="164.8" y1="425.2" x2="168.8" y2="425.2" stroke="#5cb346" stroke-width="1" opacity="0.8"/>
<line x1="164.8" y1="458" x2="168.8" y2="458" stroke="#5cb346" stroke-width="1" opacity="0.8"/>
<circle cx="166.9" cy="425.2" r="1.90" fill="#5cb346"/>
<circle cx="164.5" cy="448.7" r="1.90" fill="#5cb346"/>
<circle cx="169" cy="454.9" r="1.90" fill="#5cb346"/>
<rect x="177.70000000000002" y="448.3" width="8" height="14.25" fill="#8f97bd"/>
<line x1="181.70000000000002" y1="446.5" x2="181.70000000000002" y2="457" stroke="#2b4c8c" stroke-width="1" opacity="0.8"/>
<line x1="179.70000000000002" y1="446.5" x2="183.70000000000002" y2="446.5" stroke="#2b4c8c" stroke-width="1" opacity="0.8"/>
<line x1="179.70000000000002" y1="457" x2="183.70000000000002" y2="457" stroke="#2b4c8c" stroke-width="1" opacity="0.8"/>
<rect x="180.10" y="447.90" width="3.60" height="3.60" fill="#2b4c8c"/>
<rect x="180.10" y="454.60" width="3.60" height="3.60" fill="#2b4c8c"/>
<rect x="192.60000000000002" y="452.5" width="8" height="10.050000000000011" fill="#d08a7c"/>
<line x1="196.60000000000002" y1="446" x2="196.60000000000002" y2="457" stroke="#b3153b" stroke-width="1" opacity="0.8"/>
<line x1="194.60000000000002" y1="446" x2="198.60000000000002" y2="446" stroke="#b3153b" stroke-width="1" opacity="0.8"/>
<line x1="194.60000000000002" y1="457" x2="198.60000000000002" y2="457" stroke="#b3153b" stroke-width="1" opacity="0.8"/>
<path d="M196.5,444.80 L198.40,448.30 L194.60,448.30 Z" fill="#b3153b"/>
<path d="M194.5,450.40 L196.40,453.90 L192.60,453.90 Z" fill="#b3153b"/>
<path d="M199,454.60 L200.90,458.10 L197.10,458.10 Z" fill="#b3153b"/>
<rect x="181.25000000000003" y="462.55" width="0.9" height="2.6" fill="#111"/>
<text x="181.70000000000002" y="476" font-size="7.3" text-anchor="middle" textLength="14" lengthAdjust="spacingAndGlyphs">IL-2</text>
<rect x="55.3" y="358.45" width="34.3" height="1.1" fill="#333"/>
<text x="72.44999999999999" y="355.8" font-size="7.4" text-anchor="middle" textLength="10.8" lengthAdjust="spacingAndGlyphs">NS</text>
<rect x="109.2" y="362.45" width="33.60000000000001" height="1.1" fill="#333"/>
<text x="126.0" y="359.8" font-size="7.4" text-anchor="middle" textLength="10.8" lengthAdjust="spacingAndGlyphs">NS</text>
<rect x="165.5" y="417.65" width="34.30000000000001" height="1.1" fill="#333"/>
<text x="182.65" y="415.0" font-size="7.4" text-anchor="middle" textLength="10.8" lengthAdjust="spacingAndGlyphs">NS</text>
<text x="127.5" y="489.8" font-size="8.1" text-anchor="middle" textLength="12.4" lengthAdjust="spacingAndGlyphs" stroke="#000" stroke-width="0.25">CD8</text>
<rect x="154.3" y="349.8" width="7.4" height="7.3" fill="#5cb346"/>
<text x="164.7" y="356.30" font-size="7.4" textLength="47.6" lengthAdjust="spacingAndGlyphs">Cas9 100x10<tspan font-size="5.3" dy="-3.2">6</tspan></text>
<rect x="154.3" y="359.7" width="7.4" height="7.3" fill="#2b4c8c"/>
<text x="164.7" y="366.20" font-size="7.4" textLength="40.2" lengthAdjust="spacingAndGlyphs">KO 100x10<tspan font-size="5.3" dy="-3.2">6</tspan></text>
<rect x="154.3" y="369.6" width="7.4" height="7.3" fill="#b3153b"/>
<text x="164.7" y="376.10" font-size="7.4" textLength="67.5" lengthAdjust="spacingAndGlyphs">KO 100x10<tspan font-size="5.3" dy="-3.2">6</tspan><tspan dy="3.2"> + Dexa</tspan></text>
<text x="277.3" y="338" font-size="12" font-weight="bold">F</text>
<rect x="331.95" y="346.5" width="1.1" height="54.5" fill="#111"/>
<rect x="331.95" y="409.6" width="1.1" height="53.19999999999999" fill="#111"/>
<rect x="329.9" y="400.55" width="5.2" height="0.9" fill="#111"/>
<rect x="329.9" y="409.15000000000003" width="5.2" height="0.9" fill="#111"/>
<rect x="331.95" y="461.75" width="138.0" height="1.1" fill="#111"/>
<rect x="329.5" y="347.35" width="3" height="0.9" fill="#111"/>
<text x="326.8" y="350.55" font-size="7.8" text-anchor="end" textLength="9.1" lengthAdjust="spacingAndGlyphs">50</text>
<rect x="329.5" y="357.99" width="3" height="0.9" fill="#111"/>
<text x="326.8" y="361.19" font-size="7.8" text-anchor="end" textLength="9.1" lengthAdjust="spacingAndGlyphs">45</text>
<rect x="329.5" y="368.63" width="3" height="0.9" fill="#111"/>
<text x="326.8" y="371.83" font-size="7.8" text-anchor="end" textLength="9.1" lengthAdjust="spacingAndGlyphs">40</text>
<rect x="329.5" y="379.27" width="3" height="0.9" fill="#111"/>
<text x="326.8" y="382.47" font-size="7.8" text-anchor="end" textLength="9.1" lengthAdjust="spacingAndGlyphs">35</text>
<rect x="329.5" y="389.91" width="3" height="0.9" fill="#111"/>
<text x="326.8" y="393.11" font-size="7.8" text-anchor="end" textLength="9.1" lengthAdjust="spacingAndGlyphs">30</text>
<rect x="329.5" y="400.55" width="3" height="0.9" fill="#111"/>
<text x="326.8" y="403.75" font-size="7.8" text-anchor="end" textLength="9.1" lengthAdjust="spacingAndGlyphs">25</text>
<rect x="329.5" y="409.20" width="3" height="0.9" fill="#111"/>
<text x="326.8" y="412.40" font-size="7.8" text-anchor="end" textLength="9.1" lengthAdjust="spacingAndGlyphs">15</text>
<rect x="329.5" y="426.75" width="3" height="0.9" fill="#111"/>
<text x="326.8" y="429.95" font-size="7.8" text-anchor="end" textLength="9.1" lengthAdjust="spacingAndGlyphs">10</text>
<rect x="329.5" y="444.30" width="3" height="0.9" fill="#111"/>
<text x="326.8" y="447.50" font-size="7.8" text-anchor="end" textLength="4.55" lengthAdjust="spacingAndGlyphs">5</text>
<rect x="329.5" y="461.85" width="3" height="0.9" fill="#111"/>
<text x="326.8" y="465.05" font-size="7.8" text-anchor="end" textLength="4.55" lengthAdjust="spacingAndGlyphs">0</text>
<text transform="translate(310.3,404.3) rotate(-90)" font-size="8.6" text-anchor="middle" textLength="45.4" lengthAdjust="spacingAndGlyphs">Percetage (%)</text>
<rect x="337.2" y="366" width="7.4" height="96.30000000000001" fill="#b8d49a"/>
<line x1="340.9" y1="361" x2="340.9" y2="371" stroke="#5cb346" stroke-width="1" opacity="0.8"/>
<line x1="338.9" y1="361" x2="342.9" y2="361" stroke="#5cb346" stroke-width="1" opacity="0.8"/>
<line x1="338.9" y1="371" x2="342.9" y2="371" stroke="#5cb346" stroke-width="1" opacity="0.8"/>
<circle cx="338.5" cy="362.5" r="1.90" fill="#5cb346"/>
<circle cx="343" cy="363" r="1.90" fill="#5cb346"/>
<circle cx="341" cy="370.5" r="1.90" fill="#5cb346"/>
<circle cx="340" cy="361.8" r="1.90" fill="#5cb346"/>
<rect x="350.3" y="369.3" width="7.4" height="93.0" fill="#8f97bd"/>
<line x1="354.0" y1="357.5" x2="354.0" y2="382" stroke="#2b4c8c" stroke-width="1" opacity="0.8"/>
<line x1="352.0" y1="357.5" x2="356.0" y2="357.5" stroke="#2b4c8c" stroke-width="1" opacity="0.8"/>
<line x1="352.0" y1="382" x2="356.0" y2="382" stroke="#2b4c8c" stroke-width="1" opacity="0.8"/>
<rect x="350.20" y="359.20" width="3.60" height="3.60" fill="#2b4c8c"/>
<rect x="354.20" y="362.00" width="3.60" height="3.60" fill="#2b4c8c"/>
<rect x="351.70" y="379.20" width="3.60" height="3.60" fill="#2b4c8c"/>
<rect x="363.4" y="369.3" width="7.4" height="93.0" fill="#d08a7c"/>
<line x1="367.09999999999997" y1="353.5" x2="367.09999999999997" y2="381" stroke="#b3153b" stroke-width="1" opacity="0.8"/>
<line x1="365.09999999999997" y1="353.5" x2="369.09999999999997" y2="353.5" stroke="#b3153b" stroke-width="1" opacity="0.8"/>
<line x1="365.09999999999997" y1="381" x2="369.09999999999997" y2="381" stroke="#b3153b" stroke-width="1" opacity="0.8"/>
<path d="M366.5,352.90 L368.40,356.40 L364.60,356.40 Z" fill="#b3153b"/>
<path d="M364.5,370.90 L366.40,374.40 L362.60,374.40 Z" fill="#b3153b"/>
<path d="M368.5,376.90 L370.40,380.40 L366.60,380.40 Z" fill="#b3153b"/>
<rect x="353.55" y="462.3" width="0.9" height="2.6" fill="#111"/>
<text x="354.0" y="476" font-size="7.3" text-anchor="middle" textLength="19" lengthAdjust="spacingAndGlyphs">IFN-γ</text>
<rect x="384.8" y="380.5" width="7.4" height="81.80000000000001" fill="#b8d49a"/>
<circle cx="388.5" cy="374.5" r="1.90" fill="#5cb346"/>
<circle cx="386.2" cy="378.8" r="1.90" fill="#5cb346"/>
<circle cx="390" cy="383" r="1.90" fill="#5cb346"/>
<rect x="397.90000000000003" y="381" width="7.4" height="81.30000000000001" fill="#8f97bd"/>
<rect x="397.20" y="374.70" width="3.60" height="3.60" fill="#2b4c8c"/>
<rect x="399.70" y="378.20" width="3.60" height="3.60" fill="#2b4c8c"/>
<rect x="401.00" y="381.70" width="3.60" height="3.60" fill="#2b4c8c"/>
<rect x="411.0" y="381" width="7.4" height="81.30000000000001" fill="#d08a7c"/>
<line x1="414.7" y1="375" x2="414.7" y2="388" stroke="#b3153b" stroke-width="1" opacity="0.8"/>
<line x1="412.7" y1="375" x2="416.7" y2="375" stroke="#b3153b" stroke-width="1" opacity="0.8"/>
<line x1="412.7" y1="388" x2="416.7" y2="388" stroke="#b3153b" stroke-width="1" opacity="0.8"/>
<path d="M413.5,373.40 L415.40,376.90 L411.60,376.90 Z" fill="#b3153b"/>
<path d="M414.5,375.90 L416.40,379.40 L412.60,379.40 Z" fill="#b3153b"/>
<path d="M414.5,384.40 L416.40,387.90 L412.60,387.90 Z" fill="#b3153b"/>
<rect x="401.15000000000003" y="462.3" width="0.9" height="2.6" fill="#111"/>
<text x="401.6" y="476" font-size="7.3" text-anchor="middle" textLength="22.6" lengthAdjust="spacingAndGlyphs">TNF-α</text>
<rect x="432.1" y="435" width="7.4" height="27.30000000000001" fill="#b8d49a"/>
<circle cx="433.4" cy="431.5" r="1.90" fill="#5cb346"/>
<circle cx="435.5" cy="433" r="1.90" fill="#5cb346"/>
<circle cx="437.6" cy="434" r="1.90" fill="#5cb346"/>
<rect x="445.20000000000005" y="435.7" width="7.4" height="26.600000000000023" fill="#8f97bd"/>
<rect x="444.20" y="427.20" width="3.60" height="3.60" fill="#2b4c8c"/>
<rect x="448.20" y="432.50" width="3.60" height="3.60" fill="#2b4c8c"/>
<rect x="446.70" y="434.60" width="3.60" height="3.60" fill="#2b4c8c"/>
<rect x="458.3" y="431.5" width="7.4" height="30.80000000000001" fill="#d08a7c"/>
<line x1="462.0" y1="425.2" x2="462.0" y2="437" stroke="#b3153b" stroke-width="1" opacity="0.8"/>
<line x1="460.0" y1="425.2" x2="464.0" y2="425.2" stroke="#b3153b" stroke-width="1" opacity="0.8"/>
<line x1="460.0" y1="437" x2="464.0" y2="437" stroke="#b3153b" stroke-width="1" opacity="0.8"/>
<path d="M461.4,423.10 L463.30,426.60 L459.50,426.60 Z" fill="#b3153b"/>
<path d="M459.3,428.70 L461.20,432.20 L457.40,432.20 Z" fill="#b3153b"/>
<path d="M463,434.60 L464.90,438.10 L461.10,438.10 Z" fill="#b3153b"/>
<rect x="448.45000000000005" y="462.3" width="0.9" height="2.6" fill="#111"/>
<text x="448.90000000000003" y="476" font-size="7.3" text-anchor="middle" textLength="14" lengthAdjust="spacingAndGlyphs">IL-2</text>
<rect x="340.5" y="349.95" width="26.5" height="1.1" fill="#333"/>
<text x="353.75" y="347.3" font-size="7.4" text-anchor="middle" textLength="10.8" lengthAdjust="spacingAndGlyphs">NS</text>
<rect x="388.5" y="363.75" width="26.5" height="1.1" fill="#333"/>
<text x="401.75" y="361.1" font-size="7.4" text-anchor="middle" textLength="10.8" lengthAdjust="spacingAndGlyphs">NS</text>
<rect x="433" y="416.95" width="29.5" height="1.1" fill="#333"/>
<text x="447.75" y="414.3" font-size="7.4" text-anchor="middle" textLength="10.8" lengthAdjust="spacingAndGlyphs">NS</text>
<text x="401.5" y="489.8" font-size="8.1" text-anchor="middle" textLength="12.4" lengthAdjust="spacingAndGlyphs" stroke="#000" stroke-width="0.25">CD4</text>
<rect x="427.6" y="349.8" width="7.4" height="7.3" fill="#5cb346"/>
<text x="438" y="356.30" font-size="7.4" textLength="47.6" lengthAdjust="spacingAndGlyphs">Cas9 100x10<tspan font-size="5.3" dy="-3.2">6</tspan></text>
<rect x="427.6" y="359.7" width="7.4" height="7.3" fill="#2b4c8c"/>
<text x="438" y="366.20" font-size="7.4" textLength="40.2" lengthAdjust="spacingAndGlyphs">KO 100x10<tspan font-size="5.3" dy="-3.2">6</tspan></text>
<rect x="427.6" y="369.6" width="7.4" height="7.3" fill="#b3153b"/>
<text x="438" y="376.10" font-size="7.4" textLength="67.5" lengthAdjust="spacingAndGlyphs">KO 100x10<tspan font-size="5.3" dy="-3.2">6</tspan><tspan dy="3.2"> + Dexa</tspan></text>
<rect x="0.5" y="0.5" width="519" height="499" fill="none" stroke="#000" stroke-width="1"/>
</svg></body></html>
